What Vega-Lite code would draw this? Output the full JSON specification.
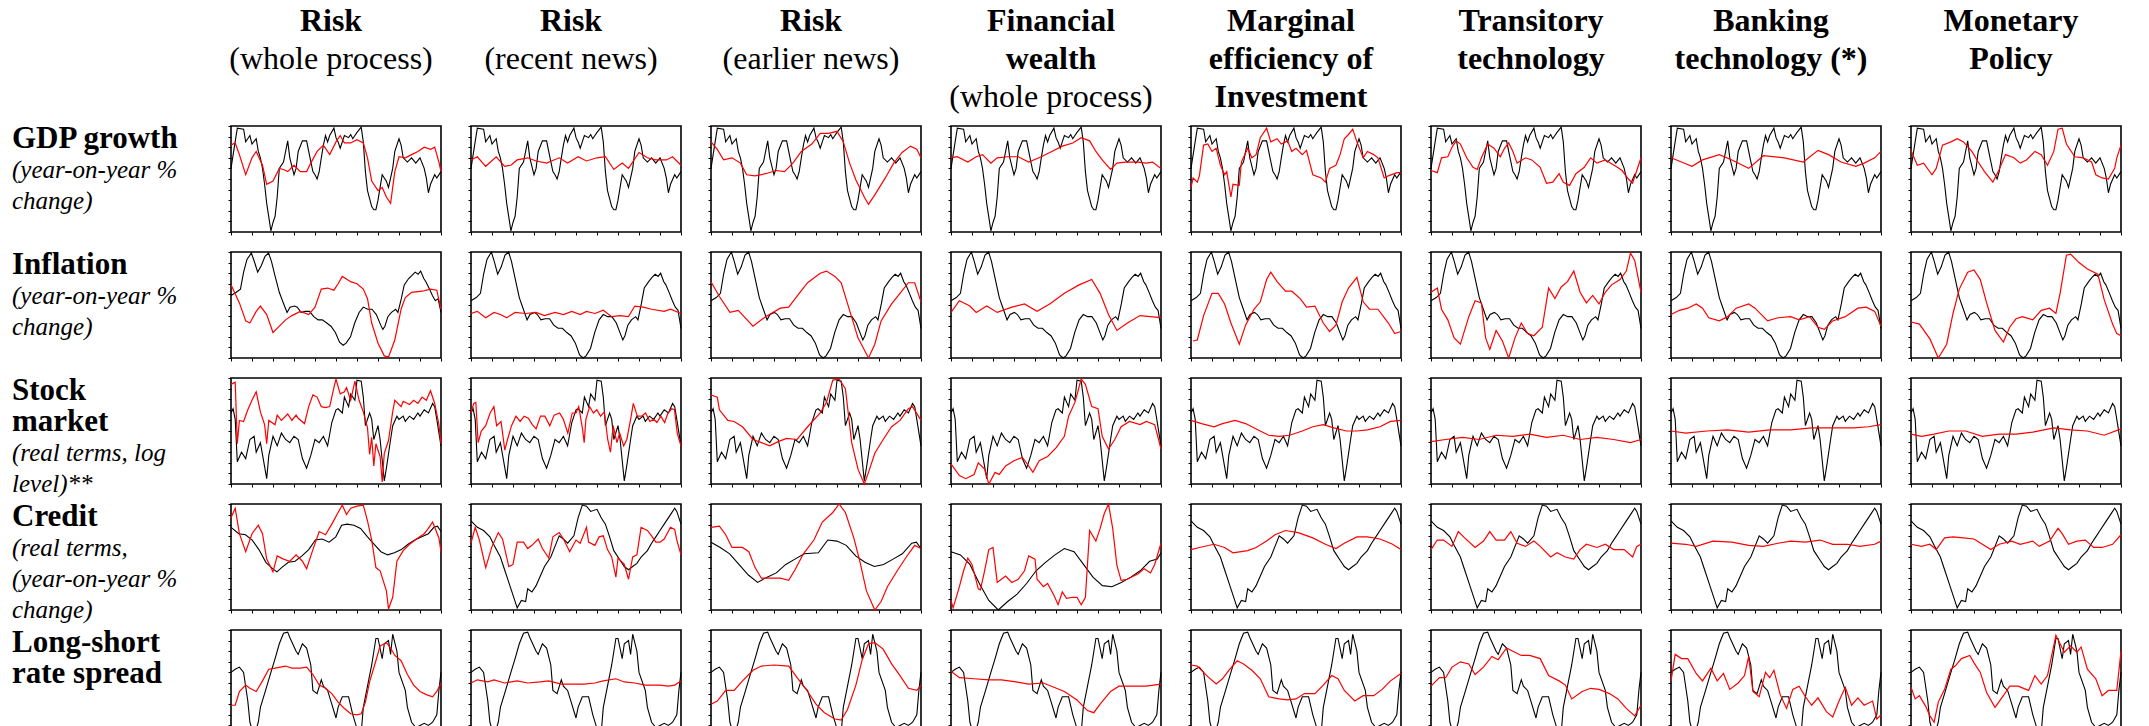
{
"padding": 0,
"background": "white",
"config": {"view": {"stroke": null}, "font": "Liberation Serif"},
"spacing": 10,
"datasets": {
"collab": [
{"c":1,"ln":0,"p":"n","txt":"Risk"},{"c":1,"ln":1,"p":"s","txt":"(whole process)"},
{"c":2,"ln":0,"p":"n","txt":"Risk"},{"c":2,"ln":1,"p":"s","txt":"(recent news)"},
{"c":3,"ln":0,"p":"n","txt":"Risk"},{"c":3,"ln":1,"p":"s","txt":"(earlier news)"},
{"c":4,"ln":0,"p":"n","txt":"Financial"},{"c":4,"ln":1,"p":"n","txt":"wealth"},{"c":4,"ln":2,"p":"s","txt":"(whole process)"},
{"c":5,"ln":0,"p":"n","txt":"Marginal"},{"c":5,"ln":1,"p":"n","txt":"efficiency of"},{"c":5,"ln":2,"p":"n","txt":"Investment"},
{"c":6,"ln":0,"p":"n","txt":"Transitory"},{"c":6,"ln":1,"p":"n","txt":"technology"},
{"c":7,"ln":0,"p":"n","txt":"Banking"},{"c":7,"ln":1,"p":"n","txt":"technology (*)"},
{"c":8,"ln":0,"p":"n","txt":"Monetary"},{"c":8,"ln":1,"p":"n","txt":"Policy"}
],
"rowlab": [
{"r":1,"ln":0,"p":"n","txt":"GDP growth"},{"r":1,"ln":1,"p":"d","txt":"(year-on-year %"},{"r":1,"ln":2,"p":"d","txt":"change)"},
{"r":2,"ln":0,"p":"n","txt":"Inflation"},{"r":2,"ln":1,"p":"d","txt":"(year-on-year %"},{"r":2,"ln":2,"p":"d","txt":"change)"},
{"r":3,"ln":0,"p":"n","txt":"Stock"},{"r":3,"ln":1,"p":"n","txt":"market"},{"r":3,"ln":2,"p":"d","txt":"(real terms, log"},{"r":3,"ln":3,"p":"d","txt":"level)**"},
{"r":4,"ln":0,"p":"n","txt":"Credit"},{"r":4,"ln":1,"p":"d","txt":"(real terms,"},{"r":4,"ln":2,"p":"d","txt":"(year-on-year %"},{"r":4,"ln":3,"p":"d","txt":"change)"},
{"r":5,"ln":0,"p":"n","txt":"Long-short"},{"r":5,"ln":1,"p":"n","txt":"rate spread"}
],
"grid": [
{"r":1,"c":[1,2,3,4,5,6,7,8],"t":0,"k":60},{"r":1,"c":[1,2,3,4,5,6,7,8],"t":3,"k":98},{"r":1,"c":[1,2,3,4,5,6,7,8],"t":6,"k":97},{"r":1,"c":[1,2,3,4,5,6,7,8],"t":7,"k":85},{"r":1,"c":[1,2,3,4,5,6,7,8],"t":9,"k":91},{"r":1,"c":[1,2,3,4,5,6,7,8],"t":10,"k":83},{"r":1,"c":[1,2,3,4,5,6,7,8],"t":12,"k":88},{"r":1,"c":[1,2,3,4,5,6,7,8],"t":13,"k":76},{"r":1,"c":[1,2,3,4,5,6,7,8],"t":14,"k":70},{"r":1,"c":[1,2,3,4,5,6,7,8],"t":15,"k":60},{"r":1,"c":[1,2,3,4,5,6,7,8],"t":16,"k":45},{"r":1,"c":[1,2,3,4,5,6,7,8],"t":17,"k":27},{"r":1,"c":[1,2,3,4,5,6,7,8],"t":19,"k":1},{"r":1,"c":[1,2,3,4,5,6,7,8],"t":20,"k":9},{"r":1,"c":[1,2,3,4,5,6,7,8],"t":21,"k":15},{"r":1,"c":[1,2,3,4,5,6,7,8],"t":22,"k":33},{"r":1,"c":[1,2,3,4,5,6,7,8],"t":23,"k":60},{"r":1,"c":[1,2,3,4,5,6,7,8],"t":25,"k":66},{"r":1,"c":[1,2,3,4,5,6,7,8],"t":27,"k":86},{"r":1,"c":[1,2,3,4,5,6,7,8],"t":28,"k":70},{"r":1,"c":[1,2,3,4,5,6,7,8],"t":30,"k":54},{"r":1,"c":[1,2,3,4,5,6,7,8],"t":31,"k":60},{"r":1,"c":[1,2,3,4,5,6,7,8],"t":32,"k":76},{"r":1,"c":[1,2,3,4,5,6,7,8],"t":34,"k":86},{"r":1,"c":[1,2,3,4,5,6,7,8],"t":36,"k":86},{"r":1,"c":[1,2,3,4,5,6,7,8],"t":37,"k":76},{"r":1,"c":[1,2,3,4,5,6,7,8],"t":39,"k":57},{"r":1,"c":[1,2,3,4,5,6,7,8],"t":40,"k":54},{"r":1,"c":[1,2,3,4,5,6,7,8],"t":41,"k":50},{"r":1,"c":[1,2,3,4,5,6,7,8],"t":42,"k":57},{"r":1,"c":[1,2,3,4,5,6,7,8],"t":43,"k":70},{"r":1,"c":[1,2,3,4,5,6,7,8],"t":44,"k":82},{"r":1,"c":[1,2,3,4,5,6,7,8],"t":45,"k":91},{"r":1,"c":[1,2,3,4,5,6,7,8],"t":46,"k":85},{"r":1,"c":[1,2,3,4,5,6,7,8],"t":47,"k":91},{"r":1,"c":[1,2,3,4,5,6,7,8],"t":49,"k":98},{"r":1,"c":[1,2,3,4,5,6,7,8],"t":50,"k":89},{"r":1,"c":[1,2,3,4,5,6,7,8],"t":51,"k":85},{"r":1,"c":[1,2,3,4,5,6,7,8],"t":52,"k":79},{"r":1,"c":[1,2,3,4,5,6,7,8],"t":53,"k":85},{"r":1,"c":[1,2,3,4,5,6,7,8],"t":54,"k":91},{"r":1,"c":[1,2,3,4,5,6,7,8],"t":56,"k":89},{"r":1,"c":[1,2,3,4,5,6,7,8],"t":57,"k":92},{"r":1,"c":[1,2,3,4,5,6,7,8],"t":58,"k":88},{"r":1,"c":[1,2,3,4,5,6,7,8],"t":59,"k":91},{"r":1,"c":[1,2,3,4,5,6,7,8],"t":60,"k":94},{"r":1,"c":[1,2,3,4,5,6,7,8],"t":62,"k":99},{"r":1,"c":[1,2,3,4,5,6,7,8],"t":63,"k":85},{"r":1,"c":[1,2,3,4,5,6,7,8],"t":64,"k":57},{"r":1,"c":[1,2,3,4,5,6,7,8],"t":65,"k":39},{"r":1,"c":[1,2,3,4,5,6,7,8],"t":67,"k":24},{"r":1,"c":[1,2,3,4,5,6,7,8],"t":68,"k":21},{"r":1,"c":[1,2,3,4,5,6,7,8],"t":69,"k":21},{"r":1,"c":[1,2,3,4,5,6,7,8],"t":70,"k":30},{"r":1,"c":[1,2,3,4,5,6,7,8],"t":72,"k":54},{"r":1,"c":[1,2,3,4,5,6,7,8],"t":74,"k":48},{"r":1,"c":[1,2,3,4,5,6,7,8],"t":75,"k":42},{"r":1,"c":[1,2,3,4,5,6,7,8],"t":77,"k":60},{"r":1,"c":[1,2,3,4,5,6,7,8],"t":78,"k":76},{"r":1,"c":[1,2,3,4,5,6,7,8],"t":80,"k":88},{"r":1,"c":[1,2,3,4,5,6,7,8],"t":81,"k":82},{"r":1,"c":[1,2,3,4,5,6,7,8],"t":82,"k":70},{"r":1,"c":[1,2,3,4,5,6,7,8],"t":84,"k":66},{"r":1,"c":[1,2,3,4,5,6,7,8],"t":86,"k":70},{"r":1,"c":[1,2,3,4,5,6,7,8],"t":88,"k":65},{"r":1,"c":[1,2,3,4,5,6,7,8],"t":90,"k":70},{"r":1,"c":[1,2,3,4,5,6,7,8],"t":92,"k":60},{"r":1,"c":[1,2,3,4,5,6,7,8],"t":93,"k":51},{"r":1,"c":[1,2,3,4,5,6,7,8],"t":94,"k":37},{"r":1,"c":[1,2,3,4,5,6,7,8],"t":95,"k":45},{"r":1,"c":[1,2,3,4,5,6,7,8],"t":97,"k":54},{"r":1,"c":[1,2,3,4,5,6,7,8],"t":98,"k":51},{"r":1,"c":[1,2,3,4,5,6,7,8],"t":100,"k":57},
{"r":2,"c":[2,3,4,5,6,7,8],"t":0,"k":54},{"r":2,"c":[2,3,4,5,6,7,8],"t":2.5,"k":57},{"r":2,"c":[2,3,4,5,6,7,8],"t":4.5,"k":61},{"r":2,"c":[2,3,4,5,6,7,8],"t":6,"k":79},{"r":2,"c":[2,3,4,5,6,7,8],"t":7.6,"k":93},{"r":2,"c":[2,3,4,5,6,7,8],"t":9.7,"k":100},{"r":2,"c":[2,3,4,5,6,7,8],"t":11.1,"k":91},{"r":2,"c":[2,3,4,5,6,7,8],"t":12.7,"k":79},{"r":2,"c":[2,3,4,5,6,7,8],"t":14.4,"k":86},{"r":2,"c":[2,3,4,5,6,7,8],"t":16.2,"k":97},{"r":2,"c":[2,3,4,5,6,7,8],"t":17.9,"k":100},{"r":2,"c":[2,3,4,5,6,7,8],"t":19.3,"k":91},{"r":2,"c":[2,3,4,5,6,7,8],"t":20.9,"k":76},{"r":2,"c":[2,3,4,5,6,7,8],"t":23,"k":57},{"r":2,"c":[2,3,4,5,6,7,8],"t":25.1,"k":45},{"r":2,"c":[2,3,4,5,6,7,8],"t":26.7,"k":36},{"r":2,"c":[2,3,4,5,6,7,8],"t":28.1,"k":41},{"r":2,"c":[2,3,4,5,6,7,8],"t":30.2,"k":43},{"r":2,"c":[2,3,4,5,6,7,8],"t":31.6,"k":41},{"r":2,"c":[2,3,4,5,6,7,8],"t":33.3,"k":36},{"r":2,"c":[2,3,4,5,6,7,8],"t":35.3,"k":37},{"r":2,"c":[2,3,4,5,6,7,8],"t":37.4,"k":37},{"r":2,"c":[2,3,4,5,6,7,8],"t":39.4,"k":31},{"r":2,"c":[2,3,4,5,6,7,8],"t":41.5,"k":28},{"r":2,"c":[2,3,4,5,6,7,8],"t":43.5,"k":28},{"r":2,"c":[2,3,4,5,6,7,8],"t":45.6,"k":24},{"r":2,"c":[2,3,4,5,6,7,8],"t":47.6,"k":21},{"r":2,"c":[2,3,4,5,6,7,8],"t":49.7,"k":14},{"r":2,"c":[2,3,4,5,6,7,8],"t":51.7,"k":3},{"r":2,"c":[2,3,4,5,6,7,8],"t":53.4,"k":0},{"r":2,"c":[2,3,4,5,6,7,8],"t":54.8,"k":2},{"r":2,"c":[2,3,4,5,6,7,8],"t":56.9,"k":9},{"r":2,"c":[2,3,4,5,6,7,8],"t":58.9,"k":24},{"r":2,"c":[2,3,4,5,6,7,8],"t":61,"k":36},{"r":2,"c":[2,3,4,5,6,7,8],"t":63,"k":41},{"r":2,"c":[2,3,4,5,6,7,8],"t":65.1,"k":39},{"r":2,"c":[2,3,4,5,6,7,8],"t":67.1,"k":39},{"r":2,"c":[2,3,4,5,6,7,8],"t":69.2,"k":33},{"r":2,"c":[2,3,4,5,6,7,8],"t":71.3,"k":22},{"r":2,"c":[2,3,4,5,6,7,8],"t":72.3,"k":17},{"r":2,"c":[2,3,4,5,6,7,8],"t":73.3,"k":21},{"r":2,"c":[2,3,4,5,6,7,8],"t":74.7,"k":31},{"r":2,"c":[2,3,4,5,6,7,8],"t":76.4,"k":36},{"r":2,"c":[2,3,4,5,6,7,8],"t":78.4,"k":39},{"r":2,"c":[2,3,4,5,6,7,8],"t":79.5,"k":36},{"r":2,"c":[2,3,4,5,6,7,8],"t":81.1,"k":51},{"r":2,"c":[2,3,4,5,6,7,8],"t":82.5,"k":66},{"r":2,"c":[2,3,4,5,6,7,8],"t":84.6,"k":72},{"r":2,"c":[2,3,4,5,6,7,8],"t":86.2,"k":76},{"r":2,"c":[2,3,4,5,6,7,8],"t":87.7,"k":79},{"r":2,"c":[2,3,4,5,6,7,8],"t":89.1,"k":77},{"r":2,"c":[2,3,4,5,6,7,8],"t":90.3,"k":80},{"r":2,"c":[2,3,4,5,6,7,8],"t":91.8,"k":72},{"r":2,"c":[2,3,4,5,6,7,8],"t":92.8,"k":69},{"r":2,"c":[2,3,4,5,6,7,8],"t":94.5,"k":61},{"r":2,"c":[2,3,4,5,6,7,8],"t":95.9,"k":54},{"r":2,"c":[2,3,4,5,6,7,8],"t":97.3,"k":48},{"r":2,"c":[2,3,4,5,6,7,8],"t":98.6,"k":45},{"r":2,"c":[2,3,4,5,6,7,8],"t":100,"k":28},
{"r":2,"c":[1],"t":0,"k":59},{"r":2,"c":[1],"t":2.5,"k":62},{"r":2,"c":[1],"t":4.5,"k":65},{"r":2,"c":[1],"t":6,"k":81},{"r":2,"c":[1],"t":7.6,"k":93},{"r":2,"c":[1],"t":9.7,"k":99},{"r":2,"c":[1],"t":11.1,"k":91},{"r":2,"c":[1],"t":12.7,"k":81},{"r":2,"c":[1],"t":14.4,"k":87},{"r":2,"c":[1],"t":16.2,"k":96},{"r":2,"c":[1],"t":17.9,"k":99},{"r":2,"c":[1],"t":19.3,"k":91},{"r":2,"c":[1],"t":20.9,"k":78},{"r":2,"c":[1],"t":23,"k":62},{"r":2,"c":[1],"t":25.1,"k":51},{"r":2,"c":[1],"t":26.7,"k":43},{"r":2,"c":[1],"t":28.1,"k":48},{"r":2,"c":[1],"t":30.2,"k":49},{"r":2,"c":[1],"t":31.6,"k":48},{"r":2,"c":[1],"t":33.3,"k":43},{"r":2,"c":[1],"t":35.3,"k":44},{"r":2,"c":[1],"t":37.4,"k":44},{"r":2,"c":[1],"t":39.4,"k":39},{"r":2,"c":[1],"t":41.5,"k":36},{"r":2,"c":[1],"t":43.5,"k":36},{"r":2,"c":[1],"t":45.6,"k":33},{"r":2,"c":[1],"t":47.6,"k":30},{"r":2,"c":[1],"t":49.7,"k":24},{"r":2,"c":[1],"t":51.7,"k":15},{"r":2,"c":[1],"t":53.4,"k":12},{"r":2,"c":[1],"t":54.8,"k":14},{"r":2,"c":[1],"t":56.9,"k":20},{"r":2,"c":[1],"t":58.9,"k":33},{"r":2,"c":[1],"t":61,"k":43},{"r":2,"c":[1],"t":63,"k":48},{"r":2,"c":[1],"t":65.1,"k":46},{"r":2,"c":[1],"t":67.1,"k":46},{"r":2,"c":[1],"t":69.2,"k":41},{"r":2,"c":[1],"t":71.3,"k":31},{"r":2,"c":[1],"t":72.3,"k":27},{"r":2,"c":[1],"t":73.3,"k":30},{"r":2,"c":[1],"t":74.7,"k":39},{"r":2,"c":[1],"t":76.4,"k":43},{"r":2,"c":[1],"t":78.4,"k":46},{"r":2,"c":[1],"t":79.5,"k":43},{"r":2,"c":[1],"t":81.1,"k":56},{"r":2,"c":[1],"t":82.5,"k":69},{"r":2,"c":[1],"t":84.6,"k":75},{"r":2,"c":[1],"t":86.2,"k":78},{"r":2,"c":[1],"t":87.7,"k":81},{"r":2,"c":[1],"t":89.1,"k":79},{"r":2,"c":[1],"t":90.3,"k":82},{"r":2,"c":[1],"t":91.8,"k":75},{"r":2,"c":[1],"t":92.8,"k":72},{"r":2,"c":[1],"t":94.5,"k":65},{"r":2,"c":[1],"t":95.9,"k":59},{"r":2,"c":[1],"t":97.3,"k":54},{"r":2,"c":[1],"t":98.6,"k":56},{"r":2,"c":[1],"t":100,"k":43},
{"r":3,"c":[1,2,3,4,5,6,7,8],"t":0,"k":67},{"r":3,"c":[1,2,3,4,5,6,7,8],"t":1,"k":71},{"r":3,"c":[1,2,3,4,5,6,7,8],"t":2,"k":61},{"r":3,"c":[1,2,3,4,5,6,7,8],"t":3,"k":21},{"r":3,"c":[1,2,3,4,5,6,7,8],"t":5,"k":30},{"r":3,"c":[1,2,3,4,5,6,7,8],"t":7,"k":24},{"r":3,"c":[1,2,3,4,5,6,7,8],"t":9,"k":42},{"r":3,"c":[1,2,3,4,5,6,7,8],"t":11,"k":45},{"r":3,"c":[1,2,3,4,5,6,7,8],"t":12,"k":30},{"r":3,"c":[1,2,3,4,5,6,7,8],"t":14,"k":39},{"r":3,"c":[1,2,3,4,5,6,7,8],"t":17,"k":5},{"r":3,"c":[1,2,3,4,5,6,7,8],"t":18,"k":27},{"r":3,"c":[1,2,3,4,5,6,7,8],"t":20,"k":45},{"r":3,"c":[1,2,3,4,5,6,7,8],"t":22,"k":36},{"r":3,"c":[1,2,3,4,5,6,7,8],"t":24,"k":48},{"r":3,"c":[1,2,3,4,5,6,7,8],"t":26,"k":42},{"r":3,"c":[1,2,3,4,5,6,7,8],"t":28,"k":39},{"r":3,"c":[1,2,3,4,5,6,7,8],"t":30,"k":45},{"r":3,"c":[1,2,3,4,5,6,7,8],"t":32,"k":42},{"r":3,"c":[1,2,3,4,5,6,7,8],"t":34,"k":24},{"r":3,"c":[1,2,3,4,5,6,7,8],"t":36,"k":15},{"r":3,"c":[1,2,3,4,5,6,7,8],"t":38,"k":27},{"r":3,"c":[1,2,3,4,5,6,7,8],"t":40,"k":42},{"r":3,"c":[1,2,3,4,5,6,7,8],"t":42,"k":39},{"r":3,"c":[1,2,3,4,5,6,7,8],"t":44,"k":45},{"r":3,"c":[1,2,3,4,5,6,7,8],"t":46,"k":36},{"r":3,"c":[1,2,3,4,5,6,7,8],"t":48,"k":58},{"r":3,"c":[1,2,3,4,5,6,7,8],"t":50,"k":70},{"r":3,"c":[1,2,3,4,5,6,7,8],"t":51,"k":71},{"r":3,"c":[1,2,3,4,5,6,7,8],"t":53,"k":67},{"r":3,"c":[1,2,3,4,5,6,7,8],"t":54,"k":82},{"r":3,"c":[1,2,3,4,5,6,7,8],"t":56,"k":73},{"r":3,"c":[1,2,3,4,5,6,7,8],"t":57,"k":85},{"r":3,"c":[1,2,3,4,5,6,7,8],"t":59,"k":79},{"r":3,"c":[1,2,3,4,5,6,7,8],"t":60,"k":98},{"r":3,"c":[1,2,3,4,5,6,7,8],"t":62,"k":97},{"r":3,"c":[1,2,3,4,5,6,7,8],"t":63,"k":82},{"r":3,"c":[1,2,3,4,5,6,7,8],"t":64,"k":55},{"r":3,"c":[1,2,3,4,5,6,7,8],"t":66,"k":67},{"r":3,"c":[1,2,3,4,5,6,7,8],"t":67,"k":61},{"r":3,"c":[1,2,3,4,5,6,7,8],"t":68,"k":42},{"r":3,"c":[1,2,3,4,5,6,7,8],"t":70,"k":55},{"r":3,"c":[1,2,3,4,5,6,7,8],"t":71,"k":42},{"r":3,"c":[1,2,3,4,5,6,7,8],"t":73,"k":3},{"r":3,"c":[1,2,3,4,5,6,7,8],"t":74,"k":15},{"r":3,"c":[1,2,3,4,5,6,7,8],"t":76,"k":42},{"r":3,"c":[1,2,3,4,5,6,7,8],"t":77,"k":55},{"r":3,"c":[1,2,3,4,5,6,7,8],"t":79,"k":64},{"r":3,"c":[1,2,3,4,5,6,7,8],"t":80,"k":61},{"r":3,"c":[1,2,3,4,5,6,7,8],"t":82,"k":64},{"r":3,"c":[1,2,3,4,5,6,7,8],"t":83,"k":59},{"r":3,"c":[1,2,3,4,5,6,7,8],"t":85,"k":64},{"r":3,"c":[1,2,3,4,5,6,7,8],"t":87,"k":61},{"r":3,"c":[1,2,3,4,5,6,7,8],"t":89,"k":67},{"r":3,"c":[1,2,3,4,5,6,7,8],"t":90,"k":64},{"r":3,"c":[1,2,3,4,5,6,7,8],"t":92,"k":70},{"r":3,"c":[1,2,3,4,5,6,7,8],"t":94,"k":67},{"r":3,"c":[1,2,3,4,5,6,7,8],"t":96,"k":76},{"r":3,"c":[1,2,3,4,5,6,7,8],"t":97,"k":73},{"r":3,"c":[1,2,3,4,5,6,7,8],"t":98,"k":61},{"r":3,"c":[1,2,3,4,5,6,7,8],"t":100,"k":36},
{"r":4,"c":[2,5,6,7,8],"t":0,"k":84},{"r":4,"c":[2,5,6,7,8],"t":3,"k":78},{"r":4,"c":[2,5,6,7,8],"t":6,"k":75},{"r":4,"c":[2,5,6,7,8],"t":9,"k":69},{"r":4,"c":[2,5,6,7,8],"t":11,"k":61},{"r":4,"c":[2,5,6,7,8],"t":14,"k":50},{"r":4,"c":[2,5,6,7,8],"t":16,"k":38},{"r":4,"c":[2,5,6,7,8],"t":18,"k":26},{"r":4,"c":[2,5,6,7,8],"t":20,"k":14},{"r":4,"c":[2,5,6,7,8],"t":22,"k":2},{"r":4,"c":[2,5,6,7,8],"t":24,"k":9},{"r":4,"c":[2,5,6,7,8],"t":26,"k":8},{"r":4,"c":[2,5,6,7,8],"t":27,"k":20},{"r":4,"c":[2,5,6,7,8],"t":29,"k":17},{"r":4,"c":[2,5,6,7,8],"t":31,"k":23},{"r":4,"c":[2,5,6,7,8],"t":33,"k":32},{"r":4,"c":[2,5,6,7,8],"t":35,"k":41},{"r":4,"c":[2,5,6,7,8],"t":38,"k":50},{"r":4,"c":[2,5,6,7,8],"t":40,"k":60},{"r":4,"c":[2,5,6,7,8],"t":42,"k":70},{"r":4,"c":[2,5,6,7,8],"t":44,"k":67},{"r":4,"c":[2,5,6,7,8],"t":46,"k":63},{"r":4,"c":[2,5,6,7,8],"t":49,"k":70},{"r":4,"c":[2,5,6,7,8],"t":51,"k":87},{"r":4,"c":[2,5,6,7,8],"t":53,"k":99},{"r":4,"c":[2,5,6,7,8],"t":55,"k":98},{"r":4,"c":[2,5,6,7,8],"t":57,"k":93},{"r":4,"c":[2,5,6,7,8],"t":60,"k":95},{"r":4,"c":[2,5,6,7,8],"t":62,"k":87},{"r":4,"c":[2,5,6,7,8],"t":64,"k":81},{"r":4,"c":[2,5,6,7,8],"t":66,"k":69},{"r":4,"c":[2,5,6,7,8],"t":68,"k":56},{"r":4,"c":[2,5,6,7,8],"t":71,"k":47},{"r":4,"c":[2,5,6,7,8],"t":73,"k":41},{"r":4,"c":[2,5,6,7,8],"t":75,"k":38},{"r":4,"c":[2,5,6,7,8],"t":77,"k":41},{"r":4,"c":[2,5,6,7,8],"t":79,"k":44},{"r":4,"c":[2,5,6,7,8],"t":81,"k":50},{"r":4,"c":[2,5,6,7,8],"t":84,"k":56},{"r":4,"c":[2,5,6,7,8],"t":86,"k":63},{"r":4,"c":[2,5,6,7,8],"t":88,"k":69},{"r":4,"c":[2,5,6,7,8],"t":90,"k":75},{"r":4,"c":[2,5,6,7,8],"t":92,"k":81},{"r":4,"c":[2,5,6,7,8],"t":95,"k":90},{"r":4,"c":[2,5,6,7,8],"t":97,"k":96},{"r":4,"c":[2,5,6,7,8],"t":98,"k":93},{"r":4,"c":[2,5,6,7,8],"t":100,"k":81},
{"r":4,"c":[1],"t":0,"k":78},{"r":4,"c":[1],"t":3.7,"k":72},{"r":4,"c":[1],"t":6.9,"k":71},{"r":4,"c":[1],"t":10.1,"k":66},{"r":4,"c":[1],"t":13.3,"k":57},{"r":4,"c":[1],"t":16.6,"k":45},{"r":4,"c":[1],"t":19.8,"k":39},{"r":4,"c":[1],"t":21.9,"k":36},{"r":4,"c":[1],"t":24.1,"k":40},{"r":4,"c":[1],"t":27.3,"k":45},{"r":4,"c":[1],"t":30.5,"k":46},{"r":4,"c":[1],"t":33.8,"k":51},{"r":4,"c":[1],"t":37,"k":57},{"r":4,"c":[1],"t":40.2,"k":66},{"r":4,"c":[1],"t":43.4,"k":67},{"r":4,"c":[1],"t":46.7,"k":64},{"r":4,"c":[1],"t":49.9,"k":69},{"r":4,"c":[1],"t":52.7,"k":80},{"r":4,"c":[1],"t":55.3,"k":81},{"r":4,"c":[1],"t":58.5,"k":80},{"r":4,"c":[1],"t":61.7,"k":77},{"r":4,"c":[1],"t":65,"k":69},{"r":4,"c":[1],"t":68.2,"k":62},{"r":4,"c":[1],"t":71.4,"k":55},{"r":4,"c":[1],"t":74.6,"k":52},{"r":4,"c":[1],"t":77.8,"k":54},{"r":4,"c":[1],"t":81.1,"k":57},{"r":4,"c":[1],"t":84.3,"k":62},{"r":4,"c":[1],"t":87.5,"k":66},{"r":4,"c":[1],"t":90.8,"k":69},{"r":4,"c":[1],"t":94,"k":72},{"r":4,"c":[1],"t":96.6,"k":78},{"r":4,"c":[1],"t":98.3,"k":79},{"r":4,"c":[1],"t":100,"k":74},
{"r":4,"c":[3],"t":0,"k":64},{"r":4,"c":[3],"t":4.4,"k":59},{"r":4,"c":[3],"t":8.9,"k":53},{"r":4,"c":[3],"t":13.3,"k":43},{"r":4,"c":[3],"t":17.8,"k":33},{"r":4,"c":[3],"t":22.2,"k":26},{"r":4,"c":[3],"t":26.7,"k":31},{"r":4,"c":[3],"t":31.1,"k":35},{"r":4,"c":[3],"t":35.6,"k":43},{"r":4,"c":[3],"t":40,"k":48},{"r":4,"c":[3],"t":44.4,"k":53},{"r":4,"c":[3],"t":51.1,"k":54},{"r":4,"c":[3],"t":55.6,"k":66},{"r":4,"c":[3],"t":60,"k":65},{"r":4,"c":[3],"t":64.4,"k":61},{"r":4,"c":[3],"t":68.9,"k":51},{"r":4,"c":[3],"t":73.3,"k":45},{"r":4,"c":[3],"t":77.8,"k":41},{"r":4,"c":[3],"t":82.2,"k":43},{"r":4,"c":[3],"t":86.7,"k":48},{"r":4,"c":[3],"t":91.1,"k":53},{"r":4,"c":[3],"t":95.6,"k":63},{"r":4,"c":[3],"t":97.8,"k":64},{"r":4,"c":[3],"t":100,"k":58},
{"r":4,"c":[4],"t":0,"k":55},{"r":4,"c":[4],"t":4.5,"k":52},{"r":4,"c":[4],"t":9,"k":43},{"r":4,"c":[4],"t":13.5,"k":25},{"r":4,"c":[4],"t":18,"k":9},{"r":4,"c":[4],"t":22.5,"k":0},{"r":4,"c":[4],"t":27,"k":8},{"r":4,"c":[4],"t":31.5,"k":15},{"r":4,"c":[4],"t":36,"k":25},{"r":4,"c":[4],"t":40.5,"k":37},{"r":4,"c":[4],"t":45,"k":45},{"r":4,"c":[4],"t":49.5,"k":52},{"r":4,"c":[4],"t":54,"k":58},{"r":4,"c":[4],"t":58.6,"k":55},{"r":4,"c":[4],"t":63.1,"k":43},{"r":4,"c":[4],"t":67.6,"k":31},{"r":4,"c":[4],"t":72.1,"k":23},{"r":4,"c":[4],"t":76.6,"k":22},{"r":4,"c":[4],"t":81.1,"k":26},{"r":4,"c":[4],"t":85.6,"k":31},{"r":4,"c":[4],"t":90.1,"k":37},{"r":4,"c":[4],"t":94.6,"k":46},{"r":4,"c":[4],"t":98.2,"k":48},{"r":4,"c":[4],"t":100,"k":54},
{"r":5,"c":[1,2,3,4,5,6,7,8],"t":0,"k":60},{"r":5,"c":[1,2,3,4,5,6,7,8],"t":2,"k":63},{"r":5,"c":[1,2,3,4,5,6,7,8],"t":4,"k":65},{"r":5,"c":[1,2,3,4,5,6,7,8],"t":6,"k":60},{"r":5,"c":[1,2,3,4,5,6,7,8],"t":8,"k":33},{"r":5,"c":[1,2,3,4,5,6,7,8],"t":9,"k":13},{"r":5,"c":[1,2,3,4,5,6,7,8],"t":11,"k":0},{"r":5,"c":[1,2,3,4,5,6,7,8],"t":13,"k":13},{"r":5,"c":[1,2,3,4,5,6,7,8],"t":14,"k":27},{"r":5,"c":[1,2,3,4,5,6,7,8],"t":16,"k":40},{"r":5,"c":[1,2,3,4,5,6,7,8],"t":19,"k":60},{"r":5,"c":[1,2,3,4,5,6,7,8],"t":21,"k":73},{"r":5,"c":[1,2,3,4,5,6,7,8],"t":23,"k":87},{"r":5,"c":[1,2,3,4,5,6,7,8],"t":25,"k":97},{"r":5,"c":[1,2,3,4,5,6,7,8],"t":27,"k":98},{"r":5,"c":[1,2,3,4,5,6,7,8],"t":28,"k":93},{"r":5,"c":[1,2,3,4,5,6,7,8],"t":31,"k":80},{"r":5,"c":[1,2,3,4,5,6,7,8],"t":32,"k":77},{"r":5,"c":[1,2,3,4,5,6,7,8],"t":34,"k":87},{"r":5,"c":[1,2,3,4,5,6,7,8],"t":36,"k":83},{"r":5,"c":[1,2,3,4,5,6,7,8],"t":38,"k":67},{"r":5,"c":[1,2,3,4,5,6,7,8],"t":39,"k":43},{"r":5,"c":[1,2,3,4,5,6,7,8],"t":41,"k":40},{"r":5,"c":[1,2,3,4,5,6,7,8],"t":43,"k":53},{"r":5,"c":[1,2,3,4,5,6,7,8],"t":44,"k":47},{"r":5,"c":[1,2,3,4,5,6,7,8],"t":46,"k":43},{"r":5,"c":[1,2,3,4,5,6,7,8],"t":48,"k":30},{"r":5,"c":[1,2,3,4,5,6,7,8],"t":50,"k":17},{"r":5,"c":[1,2,3,4,5,6,7,8],"t":51,"k":27},{"r":5,"c":[1,2,3,4,5,6,7,8],"t":53,"k":37},{"r":5,"c":[1,2,3,4,5,6,7,8],"t":55,"k":37},{"r":5,"c":[1,2,3,4,5,6,7,8],"t":56,"k":37},{"r":5,"c":[1,2,3,4,5,6,7,8],"t":58,"k":20},{"r":5,"c":[1,2,3,4,5,6,7,8],"t":60,"k":7},{"r":5,"c":[1,2,3,4,5,6,7,8],"t":62,"k":3},{"r":5,"c":[1,2,3,4,5,6,7,8],"t":63,"k":27},{"r":5,"c":[1,2,3,4,5,6,7,8],"t":65,"k":47},{"r":5,"c":[1,2,3,4,5,6,7,8],"t":67,"k":67},{"r":5,"c":[1,2,3,4,5,6,7,8],"t":69,"k":92},{"r":5,"c":[1,2,3,4,5,6,7,8],"t":70,"k":92},{"r":5,"c":[1,2,3,4,5,6,7,8],"t":72,"k":73},{"r":5,"c":[1,2,3,4,5,6,7,8],"t":73,"k":87},{"r":5,"c":[1,2,3,4,5,6,7,8],"t":75,"k":90},{"r":5,"c":[1,2,3,4,5,6,7,8],"t":76,"k":77},{"r":5,"c":[1,2,3,4,5,6,7,8],"t":77,"k":96},{"r":5,"c":[1,2,3,4,5,6,7,8],"t":79,"k":80},{"r":5,"c":[1,2,3,4,5,6,7,8],"t":80,"k":60},{"r":5,"c":[1,2,3,4,5,6,7,8],"t":83,"k":43},{"r":5,"c":[1,2,3,4,5,6,7,8],"t":84,"k":27},{"r":5,"c":[1,2,3,4,5,6,7,8],"t":86,"k":13},{"r":5,"c":[1,2,3,4,5,6,7,8],"t":88,"k":8},{"r":5,"c":[1,2,3,4,5,6,7,8],"t":90,"k":10},{"r":5,"c":[1,2,3,4,5,6,7,8],"t":92,"k":12},{"r":5,"c":[1,2,3,4,5,6,7,8],"t":94,"k":10},{"r":5,"c":[1,2,3,4,5,6,7,8],"t":96,"k":13},{"r":5,"c":[1,2,3,4,5,6,7,8],"t":98,"k":20},{"r":5,"c":[1,2,3,4,5,6,7,8],"t":99,"k":43},{"r":5,"c":[1,2,3,4,5,6,7,8],"t":100,"k":60},
{"r":1,"c":[1],"t":0,"v":82},{"r":1,"c":[1],"t":2,"v":84},{"r":1,"c":[1],"t":4,"v":73},{"r":1,"c":[1],"t":7,"v":54},{"r":1,"c":[1],"t":10,"v":70},{"r":1,"c":[1],"t":12,"v":76},{"r":1,"c":[1],"t":15,"v":63},{"r":1,"c":[1],"t":17,"v":45},{"r":1,"c":[1],"t":20,"v":48},{"r":1,"c":[1],"t":23,"v":60},{"r":1,"c":[1],"t":25,"v":59},{"r":1,"c":[1],"t":27,"v":57},{"r":1,"c":[1],"t":30,"v":63},{"r":1,"c":[1],"t":33,"v":57},{"r":1,"c":[1],"t":36,"v":57},{"r":1,"c":[1],"t":38,"v":65},{"r":1,"c":[1],"t":41,"v":76},{"r":1,"c":[1],"t":44,"v":82},{"r":1,"c":[1],"t":47,"v":73},{"r":1,"c":[1],"t":50,"v":85},{"r":1,"c":[1],"t":52,"v":91},{"r":1,"c":[1],"t":54,"v":84},{"r":1,"c":[1],"t":57,"v":84},{"r":1,"c":[1],"t":60,"v":87},{"r":1,"c":[1],"t":63,"v":84},{"r":1,"c":[1],"t":65,"v":70},{"r":1,"c":[1],"t":67,"v":48},{"r":1,"c":[1],"t":70,"v":39},{"r":1,"c":[1],"t":72,"v":42},{"r":1,"c":[1],"t":74,"v":33},{"r":1,"c":[1],"t":76,"v":27},{"r":1,"c":[1],"t":78,"v":57},{"r":1,"c":[1],"t":80,"v":71},{"r":1,"c":[1],"t":83,"v":70},{"r":1,"c":[1],"t":86,"v":73},{"r":1,"c":[1],"t":89,"v":76},{"r":1,"c":[1],"t":92,"v":80},{"r":1,"c":[1],"t":95,"v":78},{"r":1,"c":[1],"t":97,"v":80},{"r":1,"c":[1],"t":99,"v":66},{"r":1,"c":[1],"t":100,"v":57},
{"r":1,"c":[2],"t":0,"v":68},{"r":1,"c":[2],"t":3,"v":71},{"r":1,"c":[2],"t":7,"v":62},{"r":1,"c":[2],"t":12,"v":71},{"r":1,"c":[2],"t":16,"v":62},{"r":1,"c":[2],"t":19,"v":63},{"r":1,"c":[2],"t":22,"v":68},{"r":1,"c":[2],"t":27,"v":70},{"r":1,"c":[2],"t":31,"v":67},{"r":1,"c":[2],"t":36,"v":65},{"r":1,"c":[2],"t":42,"v":70},{"r":1,"c":[2],"t":46,"v":65},{"r":1,"c":[2],"t":51,"v":71},{"r":1,"c":[2],"t":55,"v":67},{"r":1,"c":[2],"t":60,"v":70},{"r":1,"c":[2],"t":64,"v":71},{"r":1,"c":[2],"t":68,"v":59},{"r":1,"c":[2],"t":72,"v":65},{"r":1,"c":[2],"t":75,"v":60},{"r":1,"c":[2],"t":80,"v":75},{"r":1,"c":[2],"t":84,"v":70},{"r":1,"c":[2],"t":88,"v":68},{"r":1,"c":[2],"t":93,"v":68},{"r":1,"c":[2],"t":96,"v":71},{"r":1,"c":[2],"t":100,"v":63},
{"r":1,"c":[3],"t":0,"v":85},{"r":1,"c":[3],"t":3,"v":78},{"r":1,"c":[3],"t":6,"v":68},{"r":1,"c":[3],"t":10,"v":70},{"r":1,"c":[3],"t":14,"v":65},{"r":1,"c":[3],"t":17,"v":54},{"r":1,"c":[3],"t":21,"v":53},{"r":1,"c":[3],"t":26,"v":55},{"r":1,"c":[3],"t":31,"v":58},{"r":1,"c":[3],"t":35,"v":57},{"r":1,"c":[3],"t":39,"v":65},{"r":1,"c":[3],"t":43,"v":76},{"r":1,"c":[3],"t":48,"v":83},{"r":1,"c":[3],"t":52,"v":93},{"r":1,"c":[3],"t":56,"v":93},{"r":1,"c":[3],"t":60,"v":95},{"r":1,"c":[3],"t":63,"v":85},{"r":1,"c":[3],"t":66,"v":65},{"r":1,"c":[3],"t":69,"v":49},{"r":1,"c":[3],"t":73,"v":33},{"r":1,"c":[3],"t":75,"v":26},{"r":1,"c":[3],"t":78,"v":35},{"r":1,"c":[3],"t":83,"v":51},{"r":1,"c":[3],"t":87,"v":65},{"r":1,"c":[3],"t":91,"v":75},{"r":1,"c":[3],"t":95,"v":81},{"r":1,"c":[3],"t":98,"v":78},{"r":1,"c":[3],"t":100,"v":70},
{"r":1,"c":[4],"t":0,"v":70},{"r":1,"c":[4],"t":3,"v":71},{"r":1,"c":[4],"t":8,"v":66},{"r":1,"c":[4],"t":12,"v":71},{"r":1,"c":[4],"t":15,"v":73},{"r":1,"c":[4],"t":19,"v":65},{"r":1,"c":[4],"t":22,"v":70},{"r":1,"c":[4],"t":27,"v":71},{"r":1,"c":[4],"t":32,"v":71},{"r":1,"c":[4],"t":37,"v":66},{"r":1,"c":[4],"t":43,"v":71},{"r":1,"c":[4],"t":48,"v":76},{"r":1,"c":[4],"t":53,"v":81},{"r":1,"c":[4],"t":58,"v":84},{"r":1,"c":[4],"t":62,"v":89},{"r":1,"c":[4],"t":66,"v":86},{"r":1,"c":[4],"t":69,"v":76},{"r":1,"c":[4],"t":72,"v":68},{"r":1,"c":[4],"t":76,"v":59},{"r":1,"c":[4],"t":79,"v":65},{"r":1,"c":[4],"t":83,"v":66},{"r":1,"c":[4],"t":89,"v":66},{"r":1,"c":[4],"t":93,"v":65},{"r":1,"c":[4],"t":96,"v":66},{"r":1,"c":[4],"t":100,"v":60},
{"r":1,"c":[5],"t":0,"v":42},{"r":1,"c":[5],"t":1,"v":51},{"r":1,"c":[5],"t":3,"v":47},{"r":1,"c":[5],"t":4,"v":53},{"r":1,"c":[5],"t":6,"v":82},{"r":1,"c":[5],"t":8,"v":83},{"r":1,"c":[5],"t":10,"v":76},{"r":1,"c":[5],"t":12,"v":79},{"r":1,"c":[5],"t":14,"v":63},{"r":1,"c":[5],"t":16,"v":54},{"r":1,"c":[5],"t":17,"v":57},{"r":1,"c":[5],"t":19,"v":33},{"r":1,"c":[5],"t":20,"v":45},{"r":1,"c":[5],"t":23,"v":44},{"r":1,"c":[5],"t":24,"v":66},{"r":1,"c":[5],"t":27,"v":79},{"r":1,"c":[5],"t":29,"v":70},{"r":1,"c":[5],"t":31,"v":73},{"r":1,"c":[5],"t":33,"v":89},{"r":1,"c":[5],"t":36,"v":98},{"r":1,"c":[5],"t":38,"v":85},{"r":1,"c":[5],"t":41,"v":88},{"r":1,"c":[5],"t":43,"v":83},{"r":1,"c":[5],"t":46,"v":86},{"r":1,"c":[5],"t":48,"v":76},{"r":1,"c":[5],"t":50,"v":79},{"r":1,"c":[5],"t":53,"v":73},{"r":1,"c":[5],"t":55,"v":77},{"r":1,"c":[5],"t":58,"v":54},{"r":1,"c":[5],"t":62,"v":51},{"r":1,"c":[5],"t":64,"v":47},{"r":1,"c":[5],"t":66,"v":60},{"r":1,"c":[5],"t":69,"v":63},{"r":1,"c":[5],"t":71,"v":73},{"r":1,"c":[5],"t":73,"v":88},{"r":1,"c":[5],"t":75,"v":92},{"r":1,"c":[5],"t":77,"v":97},{"r":1,"c":[5],"t":79,"v":85},{"r":1,"c":[5],"t":82,"v":70},{"r":1,"c":[5],"t":84,"v":76},{"r":1,"c":[5],"t":87,"v":73},{"r":1,"c":[5],"t":89,"v":70},{"r":1,"c":[5],"t":92,"v":51},{"r":1,"c":[5],"t":94,"v":53},{"r":1,"c":[5],"t":98,"v":56},{"r":1,"c":[5],"t":100,"v":56},
{"r":1,"c":[6],"t":0,"v":58},{"r":1,"c":[6],"t":3,"v":56},{"r":1,"c":[6],"t":5,"v":70},{"r":1,"c":[6],"t":8,"v":71},{"r":1,"c":[6],"t":10,"v":80},{"r":1,"c":[6],"t":12,"v":86},{"r":1,"c":[6],"t":14,"v":83},{"r":1,"c":[6],"t":17,"v":70},{"r":1,"c":[6],"t":20,"v":61},{"r":1,"c":[6],"t":22,"v":59},{"r":1,"c":[6],"t":24,"v":70},{"r":1,"c":[6],"t":27,"v":83},{"r":1,"c":[6],"t":30,"v":79},{"r":1,"c":[6],"t":33,"v":71},{"r":1,"c":[6],"t":35,"v":79},{"r":1,"c":[6],"t":37,"v":84},{"r":1,"c":[6],"t":39,"v":76},{"r":1,"c":[6],"t":41,"v":65},{"r":1,"c":[6],"t":45,"v":70},{"r":1,"c":[6],"t":48,"v":68},{"r":1,"c":[6],"t":52,"v":61},{"r":1,"c":[6],"t":55,"v":46},{"r":1,"c":[6],"t":58,"v":47},{"r":1,"c":[6],"t":61,"v":55},{"r":1,"c":[6],"t":63,"v":47},{"r":1,"c":[6],"t":66,"v":44},{"r":1,"c":[6],"t":69,"v":55},{"r":1,"c":[6],"t":73,"v":61},{"r":1,"c":[6],"t":76,"v":70},{"r":1,"c":[6],"t":79,"v":65},{"r":1,"c":[6],"t":83,"v":68},{"r":1,"c":[6],"t":88,"v":62},{"r":1,"c":[6],"t":91,"v":58},{"r":1,"c":[6],"t":94,"v":50},{"r":1,"c":[6],"t":96,"v":46},{"r":1,"c":[6],"t":98,"v":58},{"r":1,"c":[6],"t":100,"v":70},
{"r":1,"c":[7],"t":0,"v":70},{"r":1,"c":[7],"t":5,"v":66},{"r":1,"c":[7],"t":10,"v":62},{"r":1,"c":[7],"t":15,"v":68},{"r":1,"c":[7],"t":23,"v":73},{"r":1,"c":[7],"t":29,"v":68},{"r":1,"c":[7],"t":37,"v":60},{"r":1,"c":[7],"t":44,"v":72},{"r":1,"c":[7],"t":54,"v":70},{"r":1,"c":[7],"t":63,"v":66},{"r":1,"c":[7],"t":70,"v":77},{"r":1,"c":[7],"t":75,"v":73},{"r":1,"c":[7],"t":81,"v":66},{"r":1,"c":[7],"t":88,"v":62},{"r":1,"c":[7],"t":92,"v":65},{"r":1,"c":[7],"t":97,"v":70},{"r":1,"c":[7],"t":100,"v":76},
{"r":1,"c":[8],"t":0,"v":77},{"r":1,"c":[8],"t":3,"v":63},{"r":1,"c":[8],"t":6,"v":65},{"r":1,"c":[8],"t":10,"v":54},{"r":1,"c":[8],"t":12,"v":60},{"r":1,"c":[8],"t":15,"v":82},{"r":1,"c":[8],"t":19,"v":85},{"r":1,"c":[8],"t":22,"v":88},{"r":1,"c":[8],"t":25,"v":85},{"r":1,"c":[8],"t":29,"v":76},{"r":1,"c":[8],"t":32,"v":66},{"r":1,"c":[8],"t":35,"v":57},{"r":1,"c":[8],"t":39,"v":47},{"r":1,"c":[8],"t":42,"v":59},{"r":1,"c":[8],"t":45,"v":73},{"r":1,"c":[8],"t":49,"v":70},{"r":1,"c":[8],"t":52,"v":65},{"r":1,"c":[8],"t":55,"v":68},{"r":1,"c":[8],"t":59,"v":76},{"r":1,"c":[8],"t":62,"v":73},{"r":1,"c":[8],"t":65,"v":63},{"r":1,"c":[8],"t":68,"v":76},{"r":1,"c":[8],"t":70,"v":97},{"r":1,"c":[8],"t":72,"v":98},{"r":1,"c":[8],"t":74,"v":83},{"r":1,"c":[8],"t":78,"v":71},{"r":1,"c":[8],"t":82,"v":70},{"r":1,"c":[8],"t":86,"v":66},{"r":1,"c":[8],"t":88,"v":54},{"r":1,"c":[8],"t":91,"v":51},{"r":1,"c":[8],"t":94,"v":50},{"r":1,"c":[8],"t":97,"v":60},{"r":1,"c":[8],"t":98,"v":70},{"r":1,"c":[8],"t":100,"v":82},
{"r":2,"c":[1],"t":0,"v":69},{"r":2,"c":[1],"t":4,"v":52},{"r":2,"c":[1],"t":7,"v":35},{"r":2,"c":[1],"t":9,"v":33},{"r":2,"c":[1],"t":12,"v":44},{"r":2,"c":[1],"t":14,"v":49},{"r":2,"c":[1],"t":17,"v":41},{"r":2,"c":[1],"t":20,"v":24},{"r":2,"c":[1],"t":23,"v":30},{"r":2,"c":[1],"t":26,"v":36},{"r":2,"c":[1],"t":29,"v":40},{"r":2,"c":[1],"t":33,"v":44},{"r":2,"c":[1],"t":37,"v":41},{"r":2,"c":[1],"t":40,"v":48},{"r":2,"c":[1],"t":43,"v":65},{"r":2,"c":[1],"t":46,"v":66},{"r":2,"c":[1],"t":49,"v":64},{"r":2,"c":[1],"t":51,"v":70},{"r":2,"c":[1],"t":53,"v":77},{"r":2,"c":[1],"t":57,"v":72},{"r":2,"c":[1],"t":60,"v":70},{"r":2,"c":[1],"t":63,"v":65},{"r":2,"c":[1],"t":65,"v":56},{"r":2,"c":[1],"t":67,"v":33},{"r":2,"c":[1],"t":70,"v":14},{"r":2,"c":[1],"t":73,"v":2},{"r":2,"c":[1],"t":75,"v":1},{"r":2,"c":[1],"t":78,"v":17},{"r":2,"c":[1],"t":81,"v":46},{"r":2,"c":[1],"t":83,"v":57},{"r":2,"c":[1],"t":86,"v":62},{"r":2,"c":[1],"t":91,"v":63},{"r":2,"c":[1],"t":95,"v":65},{"r":2,"c":[1],"t":98,"v":64},{"r":2,"c":[1],"t":100,"v":46},
{"r":2,"c":[2],"t":0,"v":42},{"r":2,"c":[2],"t":3,"v":44},{"r":2,"c":[2],"t":7,"v":38},{"r":2,"c":[2],"t":11,"v":43},{"r":2,"c":[2],"t":14,"v":41},{"r":2,"c":[2],"t":17,"v":38},{"r":2,"c":[2],"t":21,"v":43},{"r":2,"c":[2],"t":26,"v":42},{"r":2,"c":[2],"t":31,"v":43},{"r":2,"c":[2],"t":35,"v":40},{"r":2,"c":[2],"t":40,"v":43},{"r":2,"c":[2],"t":44,"v":41},{"r":2,"c":[2],"t":48,"v":44},{"r":2,"c":[2],"t":52,"v":41},{"r":2,"c":[2],"t":55,"v":44},{"r":2,"c":[2],"t":59,"v":42},{"r":2,"c":[2],"t":63,"v":45},{"r":2,"c":[2],"t":67,"v":39},{"r":2,"c":[2],"t":71,"v":40},{"r":2,"c":[2],"t":75,"v":39},{"r":2,"c":[2],"t":78,"v":49},{"r":2,"c":[2],"t":82,"v":48},{"r":2,"c":[2],"t":86,"v":46},{"r":2,"c":[2],"t":92,"v":44},{"r":2,"c":[2],"t":95,"v":46},{"r":2,"c":[2],"t":100,"v":42},
{"r":2,"c":[3],"t":0,"v":72},{"r":2,"c":[3],"t":4,"v":58},{"r":2,"c":[3],"t":9,"v":43},{"r":2,"c":[3],"t":13,"v":45},{"r":2,"c":[3],"t":20,"v":30},{"r":2,"c":[3],"t":26,"v":39},{"r":2,"c":[3],"t":33,"v":47},{"r":2,"c":[3],"t":37,"v":48},{"r":2,"c":[3],"t":42,"v":61},{"r":2,"c":[3],"t":46,"v":71},{"r":2,"c":[3],"t":52,"v":80},{"r":2,"c":[3],"t":55,"v":82},{"r":2,"c":[3],"t":59,"v":77},{"r":2,"c":[3],"t":62,"v":71},{"r":2,"c":[3],"t":66,"v":45},{"r":2,"c":[3],"t":70,"v":19},{"r":2,"c":[3],"t":75,"v":0},{"r":2,"c":[3],"t":78,"v":13},{"r":2,"c":[3],"t":81,"v":35},{"r":2,"c":[3],"t":86,"v":51},{"r":2,"c":[3],"t":90,"v":61},{"r":2,"c":[3],"t":94,"v":71},{"r":2,"c":[3],"t":97,"v":71},{"r":2,"c":[3],"t":100,"v":53},
{"r":2,"c":[4],"t":0,"v":43},{"r":2,"c":[4],"t":4,"v":54},{"r":2,"c":[4],"t":9,"v":49},{"r":2,"c":[4],"t":12,"v":43},{"r":2,"c":[4],"t":17,"v":49},{"r":2,"c":[4],"t":22,"v":43},{"r":2,"c":[4],"t":29,"v":48},{"r":2,"c":[4],"t":35,"v":51},{"r":2,"c":[4],"t":41,"v":44},{"r":2,"c":[4],"t":47,"v":51},{"r":2,"c":[4],"t":54,"v":61},{"r":2,"c":[4],"t":61,"v":69},{"r":2,"c":[4],"t":67,"v":74},{"r":2,"c":[4],"t":71,"v":61},{"r":2,"c":[4],"t":75,"v":41},{"r":2,"c":[4],"t":79,"v":26},{"r":2,"c":[4],"t":84,"v":33},{"r":2,"c":[4],"t":90,"v":40},{"r":2,"c":[4],"t":95,"v":39},{"r":2,"c":[4],"t":100,"v":38},
{"r":2,"c":[5],"t":1,"v":16},{"r":2,"c":[5],"t":3,"v":17},{"r":2,"c":[5],"t":6,"v":40},{"r":2,"c":[5],"t":10,"v":61},{"r":2,"c":[5],"t":13,"v":61},{"r":2,"c":[5],"t":16,"v":51},{"r":2,"c":[5],"t":19,"v":33},{"r":2,"c":[5],"t":23,"v":13},{"r":2,"c":[5],"t":26,"v":31},{"r":2,"c":[5],"t":30,"v":46},{"r":2,"c":[5],"t":33,"v":53},{"r":2,"c":[5],"t":36,"v":74},{"r":2,"c":[5],"t":38,"v":81},{"r":2,"c":[5],"t":41,"v":72},{"r":2,"c":[5],"t":45,"v":63},{"r":2,"c":[5],"t":48,"v":63},{"r":2,"c":[5],"t":52,"v":56},{"r":2,"c":[5],"t":55,"v":48},{"r":2,"c":[5],"t":59,"v":49},{"r":2,"c":[5],"t":63,"v":33},{"r":2,"c":[5],"t":66,"v":25},{"r":2,"c":[5],"t":69,"v":31},{"r":2,"c":[5],"t":72,"v":53},{"r":2,"c":[5],"t":75,"v":66},{"r":2,"c":[5],"t":79,"v":76},{"r":2,"c":[5],"t":82,"v":53},{"r":2,"c":[5],"t":85,"v":46},{"r":2,"c":[5],"t":89,"v":46},{"r":2,"c":[5],"t":94,"v":33},{"r":2,"c":[5],"t":97,"v":23},{"r":2,"c":[5],"t":100,"v":25},
{"r":2,"c":[6],"t":0,"v":62},{"r":2,"c":[6],"t":3,"v":66},{"r":2,"c":[6],"t":5,"v":46},{"r":2,"c":[6],"t":8,"v":36},{"r":2,"c":[6],"t":11,"v":19},{"r":2,"c":[6],"t":14,"v":13},{"r":2,"c":[6],"t":18,"v":39},{"r":2,"c":[6],"t":21,"v":54},{"r":2,"c":[6],"t":24,"v":52},{"r":2,"c":[6],"t":26,"v":19},{"r":2,"c":[6],"t":28,"v":8},{"r":2,"c":[6],"t":31,"v":26},{"r":2,"c":[6],"t":34,"v":16},{"r":2,"c":[6],"t":37,"v":0},{"r":2,"c":[6],"t":40,"v":19},{"r":2,"c":[6],"t":43,"v":33},{"r":2,"c":[6],"t":46,"v":23},{"r":2,"c":[6],"t":49,"v":21},{"r":2,"c":[6],"t":53,"v":29},{"r":2,"c":[6],"t":56,"v":66},{"r":2,"c":[6],"t":59,"v":56},{"r":2,"c":[6],"t":62,"v":67},{"r":2,"c":[6],"t":65,"v":72},{"r":2,"c":[6],"t":68,"v":82},{"r":2,"c":[6],"t":71,"v":62},{"r":2,"c":[6],"t":74,"v":52},{"r":2,"c":[6],"t":77,"v":59},{"r":2,"c":[6],"t":80,"v":51},{"r":2,"c":[6],"t":83,"v":62},{"r":2,"c":[6],"t":86,"v":69},{"r":2,"c":[6],"t":90,"v":74},{"r":2,"c":[6],"t":93,"v":82},{"r":2,"c":[6],"t":95,"v":99},{"r":2,"c":[6],"t":97,"v":92},{"r":2,"c":[6],"t":100,"v":62},
{"r":2,"c":[7],"t":0,"v":41},{"r":2,"c":[7],"t":4,"v":45},{"r":2,"c":[7],"t":8,"v":47},{"r":2,"c":[7],"t":12,"v":51},{"r":2,"c":[7],"t":15,"v":47},{"r":2,"c":[7],"t":18,"v":38},{"r":2,"c":[7],"t":23,"v":35},{"r":2,"c":[7],"t":27,"v":39},{"r":2,"c":[7],"t":31,"v":47},{"r":2,"c":[7],"t":37,"v":51},{"r":2,"c":[7],"t":40,"v":47},{"r":2,"c":[7],"t":46,"v":35},{"r":2,"c":[7],"t":51,"v":38},{"r":2,"c":[7],"t":57,"v":39},{"r":2,"c":[7],"t":61,"v":36},{"r":2,"c":[7],"t":66,"v":39},{"r":2,"c":[7],"t":70,"v":29},{"r":2,"c":[7],"t":73,"v":27},{"r":2,"c":[7],"t":77,"v":35},{"r":2,"c":[7],"t":83,"v":39},{"r":2,"c":[7],"t":89,"v":47},{"r":2,"c":[7],"t":93,"v":48},{"r":2,"c":[7],"t":97,"v":44},{"r":2,"c":[7],"t":100,"v":30},
{"r":2,"c":[8],"t":0,"v":34},{"r":2,"c":[8],"t":4,"v":32},{"r":2,"c":[8],"t":9,"v":18},{"r":2,"c":[8],"t":13,"v":0},{"r":2,"c":[8],"t":17,"v":13},{"r":2,"c":[8],"t":20,"v":42},{"r":2,"c":[8],"t":23,"v":65},{"r":2,"c":[8],"t":27,"v":81},{"r":2,"c":[8],"t":30,"v":83},{"r":2,"c":[8],"t":33,"v":74},{"r":2,"c":[8],"t":36,"v":52},{"r":2,"c":[8],"t":40,"v":26},{"r":2,"c":[8],"t":44,"v":15},{"r":2,"c":[8],"t":47,"v":29},{"r":2,"c":[8],"t":50,"v":37},{"r":2,"c":[8],"t":53,"v":39},{"r":2,"c":[8],"t":58,"v":36},{"r":2,"c":[8],"t":62,"v":45},{"r":2,"c":[8],"t":66,"v":47},{"r":2,"c":[8],"t":69,"v":42},{"r":2,"c":[8],"t":71,"v":61},{"r":2,"c":[8],"t":74,"v":97},{"r":2,"c":[8],"t":76,"v":98},{"r":2,"c":[8],"t":80,"v":90},{"r":2,"c":[8],"t":84,"v":84},{"r":2,"c":[8],"t":89,"v":79},{"r":2,"c":[8],"t":92,"v":55},{"r":2,"c":[8],"t":96,"v":32},{"r":2,"c":[8],"t":98,"v":23},{"r":2,"c":[8],"t":100,"v":21},
{"r":3,"c":[1],"t":0,"v":94},{"r":3,"c":[1],"t":2,"v":96},{"r":3,"c":[1],"t":3,"v":38},{"r":3,"c":[1],"t":4,"v":60},{"r":3,"c":[1],"t":6,"v":59},{"r":3,"c":[1],"t":8,"v":70},{"r":3,"c":[1],"t":10,"v":79},{"r":3,"c":[1],"t":12,"v":87},{"r":3,"c":[1],"t":14,"v":68},{"r":3,"c":[1],"t":16,"v":56},{"r":3,"c":[1],"t":17,"v":38},{"r":3,"c":[1],"t":18,"v":60},{"r":3,"c":[1],"t":21,"v":56},{"r":3,"c":[1],"t":22,"v":65},{"r":3,"c":[1],"t":24,"v":60},{"r":3,"c":[1],"t":27,"v":66},{"r":3,"c":[1],"t":29,"v":60},{"r":3,"c":[1],"t":31,"v":65},{"r":3,"c":[1],"t":32,"v":62},{"r":3,"c":[1],"t":35,"v":57},{"r":3,"c":[1],"t":37,"v":73},{"r":3,"c":[1],"t":39,"v":84},{"r":3,"c":[1],"t":41,"v":82},{"r":3,"c":[1],"t":43,"v":73},{"r":3,"c":[1],"t":45,"v":72},{"r":3,"c":[1],"t":47,"v":73},{"r":3,"c":[1],"t":49,"v":91},{"r":3,"c":[1],"t":50,"v":99},{"r":3,"c":[1],"t":52,"v":85},{"r":3,"c":[1],"t":54,"v":87},{"r":3,"c":[1],"t":55,"v":91},{"r":3,"c":[1],"t":57,"v":79},{"r":3,"c":[1],"t":59,"v":97},{"r":3,"c":[1],"t":61,"v":79},{"r":3,"c":[1],"t":63,"v":68},{"r":3,"c":[1],"t":65,"v":53},{"r":3,"c":[1],"t":66,"v":28},{"r":3,"c":[1],"t":67,"v":44},{"r":3,"c":[1],"t":68,"v":17},{"r":3,"c":[1],"t":69,"v":38},{"r":3,"c":[1],"t":71,"v":26},{"r":3,"c":[1],"t":72,"v":2},{"r":3,"c":[1],"t":73,"v":29},{"r":3,"c":[1],"t":75,"v":41},{"r":3,"c":[1],"t":77,"v":68},{"r":3,"c":[1],"t":78,"v":79},{"r":3,"c":[1],"t":81,"v":73},{"r":3,"c":[1],"t":82,"v":78},{"r":3,"c":[1],"t":85,"v":75},{"r":3,"c":[1],"t":87,"v":79},{"r":3,"c":[1],"t":89,"v":76},{"r":3,"c":[1],"t":91,"v":82},{"r":3,"c":[1],"t":93,"v":79},{"r":3,"c":[1],"t":95,"v":88},{"r":3,"c":[1],"t":97,"v":76},{"r":3,"c":[1],"t":99,"v":56},{"r":3,"c":[1],"t":100,"v":38},
{"r":3,"c":[2],"t":0,"v":67},{"r":3,"c":[2],"t":1.3,"v":76},{"r":3,"c":[2],"t":2.3,"v":77},{"r":3,"c":[2],"t":3.4,"v":39},{"r":3,"c":[2],"t":4.9,"v":50},{"r":3,"c":[2],"t":7,"v":55},{"r":3,"c":[2],"t":9.1,"v":67},{"r":3,"c":[2],"t":10.9,"v":73},{"r":3,"c":[2],"t":12.2,"v":55},{"r":3,"c":[2],"t":14.3,"v":59},{"r":3,"c":[2],"t":16.1,"v":32},{"r":3,"c":[2],"t":17.4,"v":42},{"r":3,"c":[2],"t":19.3,"v":55},{"r":3,"c":[2],"t":21.4,"v":64},{"r":3,"c":[2],"t":23.4,"v":59},{"r":3,"c":[2],"t":25.3,"v":64},{"r":3,"c":[2],"t":27.3,"v":62},{"r":3,"c":[2],"t":29.2,"v":56},{"r":3,"c":[2],"t":31,"v":52},{"r":3,"c":[2],"t":33.1,"v":64},{"r":3,"c":[2],"t":35.2,"v":64},{"r":3,"c":[2],"t":37.5,"v":55},{"r":3,"c":[2],"t":39.6,"v":65},{"r":3,"c":[2],"t":42.2,"v":67},{"r":3,"c":[2],"t":44,"v":61},{"r":3,"c":[2],"t":46.1,"v":48},{"r":3,"c":[2],"t":48.2,"v":67},{"r":3,"c":[2],"t":50,"v":67},{"r":3,"c":[2],"t":51.3,"v":73},{"r":3,"c":[2],"t":53.1,"v":52},{"r":3,"c":[2],"t":53.9,"v":39},{"r":3,"c":[2],"t":54.7,"v":61},{"r":3,"c":[2],"t":56.5,"v":73},{"r":3,"c":[2],"t":58.3,"v":67},{"r":3,"c":[2],"t":59.9,"v":70},{"r":3,"c":[2],"t":61.7,"v":64},{"r":3,"c":[2],"t":63.5,"v":68},{"r":3,"c":[2],"t":65.1,"v":42},{"r":3,"c":[2],"t":66.4,"v":30},{"r":3,"c":[2],"t":67.7,"v":55},{"r":3,"c":[2],"t":69.5,"v":39},{"r":3,"c":[2],"t":70.8,"v":48},{"r":3,"c":[2],"t":72.7,"v":36},{"r":3,"c":[2],"t":74.2,"v":42},{"r":3,"c":[2],"t":76,"v":61},{"r":3,"c":[2],"t":77.3,"v":76},{"r":3,"c":[2],"t":79.2,"v":64},{"r":3,"c":[2],"t":81.3,"v":64},{"r":3,"c":[2],"t":83.1,"v":67},{"r":3,"c":[2],"t":85.2,"v":59},{"r":3,"c":[2],"t":87,"v":61},{"r":3,"c":[2],"t":88.5,"v":58},{"r":3,"c":[2],"t":90.4,"v":64},{"r":3,"c":[2],"t":92.2,"v":58},{"r":3,"c":[2],"t":93.8,"v":67},{"r":3,"c":[2],"t":95.6,"v":71},{"r":3,"c":[2],"t":96.9,"v":70},{"r":3,"c":[2],"t":98.2,"v":48},{"r":3,"c":[2],"t":100,"v":36},
{"r":3,"c":[3],"t":0,"v":84},{"r":3,"c":[3],"t":3,"v":82},{"r":3,"c":[3],"t":4,"v":70},{"r":3,"c":[3],"t":8,"v":60},{"r":3,"c":[3],"t":11,"v":59},{"r":3,"c":[3],"t":15,"v":54},{"r":3,"c":[3],"t":20,"v":42},{"r":3,"c":[3],"t":24,"v":39},{"r":3,"c":[3],"t":28,"v":36},{"r":3,"c":[3],"t":32,"v":40},{"r":3,"c":[3],"t":36,"v":43},{"r":3,"c":[3],"t":41,"v":42},{"r":3,"c":[3],"t":46,"v":54},{"r":3,"c":[3],"t":52,"v":67},{"r":3,"c":[3],"t":55,"v":77},{"r":3,"c":[3],"t":58,"v":98},{"r":3,"c":[3],"t":61,"v":99},{"r":3,"c":[3],"t":64,"v":90},{"r":3,"c":[3],"t":67,"v":39},{"r":3,"c":[3],"t":70,"v":14},{"r":3,"c":[3],"t":73,"v":0},{"r":3,"c":[3],"t":75,"v":11},{"r":3,"c":[3],"t":78,"v":29},{"r":3,"c":[3],"t":82,"v":42},{"r":3,"c":[3],"t":86,"v":54},{"r":3,"c":[3],"t":90,"v":60},{"r":3,"c":[3],"t":94,"v":71},{"r":3,"c":[3],"t":96,"v":73},{"r":3,"c":[3],"t":100,"v":60},
{"r":3,"c":[4],"t":0,"v":19},{"r":3,"c":[4],"t":4,"v":8},{"r":3,"c":[4],"t":7,"v":5},{"r":3,"c":[4],"t":11,"v":9},{"r":3,"c":[4],"t":13,"v":20},{"r":3,"c":[4],"t":16,"v":14},{"r":3,"c":[4],"t":18,"v":0},{"r":3,"c":[4],"t":21,"v":11},{"r":3,"c":[4],"t":23,"v":9},{"r":3,"c":[4],"t":26,"v":17},{"r":3,"c":[4],"t":30,"v":22},{"r":3,"c":[4],"t":34,"v":25},{"r":3,"c":[4],"t":37,"v":17},{"r":3,"c":[4],"t":39,"v":11},{"r":3,"c":[4],"t":42,"v":22},{"r":3,"c":[4],"t":46,"v":26},{"r":3,"c":[4],"t":50,"v":34},{"r":3,"c":[4],"t":54,"v":45},{"r":3,"c":[4],"t":56,"v":64},{"r":3,"c":[4],"t":59,"v":77},{"r":3,"c":[4],"t":62,"v":99},{"r":3,"c":[4],"t":64,"v":94},{"r":3,"c":[4],"t":67,"v":73},{"r":3,"c":[4],"t":70,"v":71},{"r":3,"c":[4],"t":72,"v":45},{"r":3,"c":[4],"t":75,"v":33},{"r":3,"c":[4],"t":78,"v":42},{"r":3,"c":[4],"t":81,"v":54},{"r":3,"c":[4],"t":85,"v":59},{"r":3,"c":[4],"t":90,"v":56},{"r":3,"c":[4],"t":93,"v":59},{"r":3,"c":[4],"t":97,"v":56},{"r":3,"c":[4],"t":100,"v":33},
{"r":3,"c":[5],"t":0,"v":60},{"r":3,"c":[5],"t":5,"v":57},{"r":3,"c":[5],"t":11,"v":54},{"r":3,"c":[5],"t":15,"v":57},{"r":3,"c":[5],"t":21,"v":60},{"r":3,"c":[5],"t":26,"v":57},{"r":3,"c":[5],"t":32,"v":51},{"r":3,"c":[5],"t":37,"v":46},{"r":3,"c":[5],"t":42,"v":45},{"r":3,"c":[5],"t":47,"v":46},{"r":3,"c":[5],"t":53,"v":50},{"r":3,"c":[5],"t":58,"v":54},{"r":3,"c":[5],"t":63,"v":56},{"r":3,"c":[5],"t":68,"v":53},{"r":3,"c":[5],"t":74,"v":50},{"r":3,"c":[5],"t":79,"v":50},{"r":3,"c":[5],"t":84,"v":51},{"r":3,"c":[5],"t":90,"v":54},{"r":3,"c":[5],"t":95,"v":59},{"r":3,"c":[5],"t":100,"v":60},
{"r":3,"c":[6],"t":0,"v":40},{"r":3,"c":[6],"t":7,"v":42},{"r":3,"c":[6],"t":15,"v":44},{"r":3,"c":[6],"t":23,"v":42},{"r":3,"c":[6],"t":31,"v":46},{"r":3,"c":[6],"t":39,"v":45},{"r":3,"c":[6],"t":47,"v":47},{"r":3,"c":[6],"t":55,"v":44},{"r":3,"c":[6],"t":63,"v":46},{"r":3,"c":[6],"t":71,"v":42},{"r":3,"c":[6],"t":79,"v":44},{"r":3,"c":[6],"t":87,"v":42},{"r":3,"c":[6],"t":95,"v":39},{"r":3,"c":[6],"t":100,"v":42},
{"r":3,"c":[7],"t":0,"v":50},{"r":3,"c":[7],"t":7,"v":48},{"r":3,"c":[7],"t":17,"v":50},{"r":3,"c":[7],"t":27,"v":51},{"r":3,"c":[7],"t":37,"v":49},{"r":3,"c":[7],"t":47,"v":51},{"r":3,"c":[7],"t":57,"v":51},{"r":3,"c":[7],"t":67,"v":53},{"r":3,"c":[7],"t":77,"v":53},{"r":3,"c":[7],"t":87,"v":53},{"r":3,"c":[7],"t":94,"v":54},{"r":3,"c":[7],"t":100,"v":56},
{"r":3,"c":[8],"t":0,"v":47},{"r":3,"c":[8],"t":5,"v":45},{"r":3,"c":[8],"t":11,"v":47},{"r":3,"c":[8],"t":18,"v":50},{"r":3,"c":[8],"t":26,"v":50},{"r":3,"c":[8],"t":34,"v":45},{"r":3,"c":[8],"t":42,"v":47},{"r":3,"c":[8],"t":50,"v":47},{"r":3,"c":[8],"t":58,"v":49},{"r":3,"c":[8],"t":68,"v":53},{"r":3,"c":[8],"t":76,"v":51},{"r":3,"c":[8],"t":84,"v":50},{"r":3,"c":[8],"t":92,"v":46},{"r":3,"c":[8],"t":100,"v":52},
{"r":4,"c":[1],"t":0,"v":87},{"r":4,"c":[1],"t":2,"v":96},{"r":4,"c":[1],"t":4,"v":72},{"r":4,"c":[1],"t":7,"v":55},{"r":4,"c":[1],"t":10,"v":72},{"r":4,"c":[1],"t":13,"v":80},{"r":4,"c":[1],"t":15,"v":72},{"r":4,"c":[1],"t":17,"v":48},{"r":4,"c":[1],"t":20,"v":36},{"r":4,"c":[1],"t":22,"v":51},{"r":4,"c":[1],"t":25,"v":48},{"r":4,"c":[1],"t":28,"v":46},{"r":4,"c":[1],"t":31,"v":52},{"r":4,"c":[1],"t":34,"v":46},{"r":4,"c":[1],"t":36,"v":39},{"r":4,"c":[1],"t":39,"v":57},{"r":4,"c":[1],"t":42,"v":74},{"r":4,"c":[1],"t":45,"v":71},{"r":4,"c":[1],"t":48,"v":81},{"r":4,"c":[1],"t":51,"v":92},{"r":4,"c":[1],"t":53,"v":99},{"r":4,"c":[1],"t":55,"v":90},{"r":4,"c":[1],"t":57,"v":96},{"r":4,"c":[1],"t":60,"v":98},{"r":4,"c":[1],"t":63,"v":99},{"r":4,"c":[1],"t":65,"v":84},{"r":4,"c":[1],"t":67,"v":66},{"r":4,"c":[1],"t":69,"v":40},{"r":4,"c":[1],"t":71,"v":37},{"r":4,"c":[1],"t":74,"v":18},{"r":4,"c":[1],"t":75,"v":1},{"r":4,"c":[1],"t":77,"v":12},{"r":4,"c":[1],"t":79,"v":46},{"r":4,"c":[1],"t":82,"v":56},{"r":4,"c":[1],"t":85,"v":62},{"r":4,"c":[1],"t":89,"v":68},{"r":4,"c":[1],"t":92,"v":72},{"r":4,"c":[1],"t":94,"v":77},{"r":4,"c":[1],"t":96,"v":83},{"r":4,"c":[1],"t":97,"v":78},{"r":4,"c":[1],"t":99,"v":68},{"r":4,"c":[1],"t":100,"v":55},
{"r":4,"c":[2],"t":0,"v":63},{"r":4,"c":[2],"t":2,"v":78},{"r":4,"c":[2],"t":4,"v":66},{"r":4,"c":[2],"t":7,"v":40},{"r":4,"c":[2],"t":10,"v":60},{"r":4,"c":[2],"t":13,"v":73},{"r":4,"c":[2],"t":15,"v":67},{"r":4,"c":[2],"t":18,"v":41},{"r":4,"c":[2],"t":20,"v":43},{"r":4,"c":[2],"t":22,"v":64},{"r":4,"c":[2],"t":25,"v":64},{"r":4,"c":[2],"t":27,"v":58},{"r":4,"c":[2],"t":29,"v":61},{"r":4,"c":[2],"t":32,"v":67},{"r":4,"c":[2],"t":34,"v":58},{"r":4,"c":[2],"t":37,"v":49},{"r":4,"c":[2],"t":39,"v":69},{"r":4,"c":[2],"t":42,"v":73},{"r":4,"c":[2],"t":44,"v":67},{"r":4,"c":[2],"t":47,"v":55},{"r":4,"c":[2],"t":50,"v":66},{"r":4,"c":[2],"t":52,"v":63},{"r":4,"c":[2],"t":55,"v":78},{"r":4,"c":[2],"t":56,"v":64},{"r":4,"c":[2],"t":59,"v":61},{"r":4,"c":[2],"t":61,"v":69},{"r":4,"c":[2],"t":63,"v":70},{"r":4,"c":[2],"t":65,"v":57},{"r":4,"c":[2],"t":67,"v":50},{"r":4,"c":[2],"t":69,"v":31},{"r":4,"c":[2],"t":70,"v":49},{"r":4,"c":[2],"t":73,"v":43},{"r":4,"c":[2],"t":75,"v":29},{"r":4,"c":[2],"t":77,"v":50},{"r":4,"c":[2],"t":79,"v":52},{"r":4,"c":[2],"t":81,"v":78},{"r":4,"c":[2],"t":84,"v":75},{"r":4,"c":[2],"t":86,"v":70},{"r":4,"c":[2],"t":88,"v":64},{"r":4,"c":[2],"t":90,"v":64},{"r":4,"c":[2],"t":92,"v":67},{"r":4,"c":[2],"t":95,"v":78},{"r":4,"c":[2],"t":97,"v":76},{"r":4,"c":[2],"t":98,"v":66},{"r":4,"c":[2],"t":100,"v":52},
{"r":4,"c":[3],"t":0,"v":78},{"r":4,"c":[3],"t":4,"v":79},{"r":4,"c":[3],"t":7,"v":71},{"r":4,"c":[3],"t":10,"v":59},{"r":4,"c":[3],"t":15,"v":59},{"r":4,"c":[3],"t":18,"v":55},{"r":4,"c":[3],"t":21,"v":40},{"r":4,"c":[3],"t":24,"v":30},{"r":4,"c":[3],"t":29,"v":30},{"r":4,"c":[3],"t":33,"v":30},{"r":4,"c":[3],"t":37,"v":28},{"r":4,"c":[3],"t":40,"v":38},{"r":4,"c":[3],"t":44,"v":53},{"r":4,"c":[3],"t":49,"v":66},{"r":4,"c":[3],"t":53,"v":83},{"r":4,"c":[3],"t":58,"v":92},{"r":4,"c":[3],"t":61,"v":100},{"r":4,"c":[3],"t":64,"v":92},{"r":4,"c":[3],"t":68,"v":68},{"r":4,"c":[3],"t":71,"v":45},{"r":4,"c":[3],"t":74,"v":18},{"r":4,"c":[3],"t":78,"v":0},{"r":4,"c":[3],"t":81,"v":8},{"r":4,"c":[3],"t":84,"v":22},{"r":4,"c":[3],"t":89,"v":38},{"r":4,"c":[3],"t":93,"v":50},{"r":4,"c":[3],"t":97,"v":61},{"r":4,"c":[3],"t":100,"v":58},
{"r":4,"c":[4],"t":0,"v":9},{"r":4,"c":[4],"t":1,"v":2},{"r":4,"c":[4],"t":4,"v":22},{"r":4,"c":[4],"t":6,"v":37},{"r":4,"c":[4],"t":8,"v":49},{"r":4,"c":[4],"t":10,"v":43},{"r":4,"c":[4],"t":13,"v":20},{"r":4,"c":[4],"t":14,"v":19},{"r":4,"c":[4],"t":16,"v":37},{"r":4,"c":[4],"t":18,"v":57},{"r":4,"c":[4],"t":20,"v":59},{"r":4,"c":[4],"t":22,"v":26},{"r":4,"c":[4],"t":24,"v":29},{"r":4,"c":[4],"t":26,"v":32},{"r":4,"c":[4],"t":29,"v":26},{"r":4,"c":[4],"t":32,"v":29},{"r":4,"c":[4],"t":35,"v":37},{"r":4,"c":[4],"t":37,"v":51},{"r":4,"c":[4],"t":40,"v":48},{"r":4,"c":[4],"t":41,"v":29},{"r":4,"c":[4],"t":44,"v":22},{"r":4,"c":[4],"t":46,"v":25},{"r":4,"c":[4],"t":49,"v":14},{"r":4,"c":[4],"t":51,"v":5},{"r":4,"c":[4],"t":53,"v":17},{"r":4,"c":[4],"t":55,"v":11},{"r":4,"c":[4],"t":58,"v":12},{"r":4,"c":[4],"t":60,"v":12},{"r":4,"c":[4],"t":62,"v":5},{"r":4,"c":[4],"t":64,"v":12},{"r":4,"c":[4],"t":66,"v":75},{"r":4,"c":[4],"t":69,"v":65},{"r":4,"c":[4],"t":71,"v":77},{"r":4,"c":[4],"t":73,"v":91},{"r":4,"c":[4],"t":75,"v":100},{"r":4,"c":[4],"t":77,"v":77},{"r":4,"c":[4],"t":79,"v":42},{"r":4,"c":[4],"t":81,"v":28},{"r":4,"c":[4],"t":84,"v":29},{"r":4,"c":[4],"t":87,"v":32},{"r":4,"c":[4],"t":89,"v":34},{"r":4,"c":[4],"t":92,"v":39},{"r":4,"c":[4],"t":95,"v":35},{"r":4,"c":[4],"t":97,"v":43},{"r":4,"c":[4],"t":100,"v":63},
{"r":4,"c":[5],"t":0,"v":57},{"r":4,"c":[5],"t":4,"v":59},{"r":4,"c":[5],"t":11,"v":62},{"r":4,"c":[5],"t":16,"v":59},{"r":4,"c":[5],"t":20,"v":54},{"r":4,"c":[5],"t":27,"v":56},{"r":4,"c":[5],"t":31,"v":59},{"r":4,"c":[5],"t":36,"v":65},{"r":4,"c":[5],"t":40,"v":71},{"r":4,"c":[5],"t":45,"v":75},{"r":4,"c":[5],"t":51,"v":73},{"r":4,"c":[5],"t":58,"v":68},{"r":4,"c":[5],"t":64,"v":62},{"r":4,"c":[5],"t":69,"v":58},{"r":4,"c":[5],"t":73,"v":63},{"r":4,"c":[5],"t":79,"v":69},{"r":4,"c":[5],"t":84,"v":69},{"r":4,"c":[5],"t":90,"v":67},{"r":4,"c":[5],"t":96,"v":62},{"r":4,"c":[5],"t":100,"v":57},
{"r":4,"c":[6],"t":0,"v":57},{"r":4,"c":[6],"t":3,"v":66},{"r":4,"c":[6],"t":6,"v":66},{"r":4,"c":[6],"t":10,"v":60},{"r":4,"c":[6],"t":13,"v":74},{"r":4,"c":[6],"t":16,"v":68},{"r":4,"c":[6],"t":21,"v":59},{"r":4,"c":[6],"t":25,"v":65},{"r":4,"c":[6],"t":28,"v":74},{"r":4,"c":[6],"t":31,"v":66},{"r":4,"c":[6],"t":35,"v":66},{"r":4,"c":[6],"t":38,"v":74},{"r":4,"c":[6],"t":41,"v":63},{"r":4,"c":[6],"t":45,"v":60},{"r":4,"c":[6],"t":49,"v":65},{"r":4,"c":[6],"t":52,"v":60},{"r":4,"c":[6],"t":57,"v":50},{"r":4,"c":[6],"t":60,"v":54},{"r":4,"c":[6],"t":64,"v":50},{"r":4,"c":[6],"t":68,"v":48},{"r":4,"c":[6],"t":71,"v":57},{"r":4,"c":[6],"t":74,"v":62},{"r":4,"c":[6],"t":79,"v":59},{"r":4,"c":[6],"t":83,"v":62},{"r":4,"c":[6],"t":87,"v":57},{"r":4,"c":[6],"t":92,"v":57},{"r":4,"c":[6],"t":96,"v":50},{"r":4,"c":[6],"t":98,"v":60},{"r":4,"c":[6],"t":100,"v":62},
{"r":4,"c":[7],"t":0,"v":63},{"r":4,"c":[7],"t":7,"v":62},{"r":4,"c":[7],"t":12,"v":60},{"r":4,"c":[7],"t":20,"v":65},{"r":4,"c":[7],"t":29,"v":64},{"r":4,"c":[7],"t":37,"v":61},{"r":4,"c":[7],"t":44,"v":60},{"r":4,"c":[7],"t":51,"v":63},{"r":4,"c":[7],"t":57,"v":65},{"r":4,"c":[7],"t":64,"v":64},{"r":4,"c":[7],"t":71,"v":66},{"r":4,"c":[7],"t":77,"v":62},{"r":4,"c":[7],"t":84,"v":62},{"r":4,"c":[7],"t":90,"v":60},{"r":4,"c":[7],"t":97,"v":62},{"r":4,"c":[7],"t":100,"v":65},
{"r":4,"c":[8],"t":0,"v":62},{"r":4,"c":[8],"t":5,"v":60},{"r":4,"c":[8],"t":9,"v":62},{"r":4,"c":[8],"t":12,"v":57},{"r":4,"c":[8],"t":16,"v":68},{"r":4,"c":[8],"t":20,"v":69},{"r":4,"c":[8],"t":25,"v":68},{"r":4,"c":[8],"t":30,"v":67},{"r":4,"c":[8],"t":34,"v":62},{"r":4,"c":[8],"t":38,"v":57},{"r":4,"c":[8],"t":42,"v":62},{"r":4,"c":[8],"t":48,"v":65},{"r":4,"c":[8],"t":52,"v":62},{"r":4,"c":[8],"t":58,"v":65},{"r":4,"c":[8],"t":61,"v":60},{"r":4,"c":[8],"t":66,"v":65},{"r":4,"c":[8],"t":70,"v":77},{"r":4,"c":[8],"t":72,"v":72},{"r":4,"c":[8],"t":75,"v":62},{"r":4,"c":[8],"t":79,"v":65},{"r":4,"c":[8],"t":83,"v":66},{"r":4,"c":[8],"t":87,"v":59},{"r":4,"c":[8],"t":91,"v":59},{"r":4,"c":[8],"t":96,"v":62},{"r":4,"c":[8],"t":100,"v":71},
{"r":5,"c":[1],"t":0,"v":29},{"r":5,"c":[1],"t":2,"v":29},{"r":5,"c":[1],"t":4,"v":42},{"r":5,"c":[1],"t":7,"v":48},{"r":5,"c":[1],"t":9,"v":45},{"r":5,"c":[1],"t":12,"v":42},{"r":5,"c":[1],"t":15,"v":52},{"r":5,"c":[1],"t":18,"v":63},{"r":5,"c":[1],"t":21,"v":64},{"r":5,"c":[1],"t":26,"v":66},{"r":5,"c":[1],"t":29,"v":64},{"r":5,"c":[1],"t":33,"v":64},{"r":5,"c":[1],"t":36,"v":65},{"r":5,"c":[1],"t":39,"v":58},{"r":5,"c":[1],"t":42,"v":48},{"r":5,"c":[1],"t":45,"v":45},{"r":5,"c":[1],"t":48,"v":40},{"r":5,"c":[1],"t":51,"v":32},{"r":5,"c":[1],"t":54,"v":26},{"r":5,"c":[1],"t":57,"v":21},{"r":5,"c":[1],"t":60,"v":20},{"r":5,"c":[1],"t":62,"v":21},{"r":5,"c":[1],"t":64,"v":32},{"r":5,"c":[1],"t":66,"v":51},{"r":5,"c":[1],"t":69,"v":71},{"r":5,"c":[1],"t":71,"v":85},{"r":5,"c":[1],"t":74,"v":88},{"r":5,"c":[1],"t":76,"v":83},{"r":5,"c":[1],"t":78,"v":76},{"r":5,"c":[1],"t":81,"v":71},{"r":5,"c":[1],"t":84,"v":58},{"r":5,"c":[1],"t":87,"v":48},{"r":5,"c":[1],"t":90,"v":42},{"r":5,"c":[1],"t":93,"v":39},{"r":5,"c":[1],"t":96,"v":37},{"r":5,"c":[1],"t":98,"v":42},{"r":5,"c":[1],"t":100,"v":50},
{"r":5,"c":[2],"t":0,"v":50},{"r":5,"c":[2],"t":3,"v":53},{"r":5,"c":[2],"t":8,"v":51},{"r":5,"c":[2],"t":11,"v":53},{"r":5,"c":[2],"t":16,"v":50},{"r":5,"c":[2],"t":22,"v":52},{"r":5,"c":[2],"t":27,"v":50},{"r":5,"c":[2],"t":33,"v":51},{"r":5,"c":[2],"t":37,"v":52},{"r":5,"c":[2],"t":43,"v":49},{"r":5,"c":[2],"t":48,"v":49},{"r":5,"c":[2],"t":54,"v":49},{"r":5,"c":[2],"t":59,"v":50},{"r":5,"c":[2],"t":63,"v":52},{"r":5,"c":[2],"t":69,"v":54},{"r":5,"c":[2],"t":73,"v":51},{"r":5,"c":[2],"t":78,"v":50},{"r":5,"c":[2],"t":83,"v":48},{"r":5,"c":[2],"t":90,"v":48},{"r":5,"c":[2],"t":94,"v":47},{"r":5,"c":[2],"t":97,"v":48},{"r":5,"c":[2],"t":100,"v":52},
{"r":5,"c":[3],"t":0,"v":30},{"r":5,"c":[3],"t":3,"v":33},{"r":5,"c":[3],"t":7,"v":43},{"r":5,"c":[3],"t":11,"v":43},{"r":5,"c":[3],"t":15,"v":52},{"r":5,"c":[3],"t":20,"v":62},{"r":5,"c":[3],"t":24,"v":66},{"r":5,"c":[3],"t":30,"v":67},{"r":5,"c":[3],"t":37,"v":66},{"r":5,"c":[3],"t":41,"v":55},{"r":5,"c":[3],"t":46,"v":42},{"r":5,"c":[3],"t":50,"v":30},{"r":5,"c":[3],"t":54,"v":22},{"r":5,"c":[3],"t":59,"v":16},{"r":5,"c":[3],"t":62,"v":15},{"r":5,"c":[3],"t":65,"v":25},{"r":5,"c":[3],"t":69,"v":48},{"r":5,"c":[3],"t":72,"v":72},{"r":5,"c":[3],"t":75,"v":87},{"r":5,"c":[3],"t":78,"v":88},{"r":5,"c":[3],"t":82,"v":82},{"r":5,"c":[3],"t":86,"v":68},{"r":5,"c":[3],"t":90,"v":57},{"r":5,"c":[3],"t":94,"v":45},{"r":5,"c":[3],"t":98,"v":43},{"r":5,"c":[3],"t":100,"v":48},
{"r":5,"c":[4],"t":0,"v":61},{"r":5,"c":[4],"t":4,"v":55},{"r":5,"c":[4],"t":11,"v":54},{"r":5,"c":[4],"t":18,"v":53},{"r":5,"c":[4],"t":24,"v":53},{"r":5,"c":[4],"t":31,"v":51},{"r":5,"c":[4],"t":37,"v":49},{"r":5,"c":[4],"t":44,"v":50},{"r":5,"c":[4],"t":49,"v":46},{"r":5,"c":[4],"t":54,"v":42},{"r":5,"c":[4],"t":60,"v":34},{"r":5,"c":[4],"t":65,"v":24},{"r":5,"c":[4],"t":68,"v":22},{"r":5,"c":[4],"t":71,"v":30},{"r":5,"c":[4],"t":76,"v":42},{"r":5,"c":[4],"t":80,"v":47},{"r":5,"c":[4],"t":86,"v":47},{"r":5,"c":[4],"t":93,"v":47},{"r":5,"c":[4],"t":100,"v":49},
{"r":5,"c":[5],"t":0,"v":67},{"r":5,"c":[5],"t":3,"v":66},{"r":5,"c":[5],"t":8,"v":56},{"r":5,"c":[5],"t":12,"v":49},{"r":5,"c":[5],"t":15,"v":54},{"r":5,"c":[5],"t":18,"v":62},{"r":5,"c":[5],"t":22,"v":71},{"r":5,"c":[5],"t":25,"v":68},{"r":5,"c":[5],"t":29,"v":62},{"r":5,"c":[5],"t":33,"v":54},{"r":5,"c":[5],"t":37,"v":37},{"r":5,"c":[5],"t":42,"v":35},{"r":5,"c":[5],"t":46,"v":34},{"r":5,"c":[5],"t":50,"v":35},{"r":5,"c":[5],"t":54,"v":40},{"r":5,"c":[5],"t":59,"v":40},{"r":5,"c":[5],"t":63,"v":48},{"r":5,"c":[5],"t":67,"v":57},{"r":5,"c":[5],"t":70,"v":54},{"r":5,"c":[5],"t":73,"v":43},{"r":5,"c":[5],"t":78,"v":33},{"r":5,"c":[5],"t":82,"v":38},{"r":5,"c":[5],"t":87,"v":38},{"r":5,"c":[5],"t":91,"v":44},{"r":5,"c":[5],"t":95,"v":52},{"r":5,"c":[5],"t":100,"v":59},
{"r":5,"c":[6],"t":0,"v":47},{"r":5,"c":[6],"t":4,"v":55},{"r":5,"c":[6],"t":7,"v":55},{"r":5,"c":[6],"t":10,"v":65},{"r":5,"c":[6],"t":14,"v":70},{"r":5,"c":[6],"t":18,"v":68},{"r":5,"c":[6],"t":21,"v":58},{"r":5,"c":[6],"t":25,"v":65},{"r":5,"c":[6],"t":29,"v":75},{"r":5,"c":[6],"t":32,"v":72},{"r":5,"c":[6],"t":36,"v":83},{"r":5,"c":[6],"t":39,"v":80},{"r":5,"c":[6],"t":43,"v":76},{"r":5,"c":[6],"t":47,"v":76},{"r":5,"c":[6],"t":52,"v":73},{"r":5,"c":[6],"t":56,"v":57},{"r":5,"c":[6],"t":61,"v":52},{"r":5,"c":[6],"t":64,"v":48},{"r":5,"c":[6],"t":67,"v":35},{"r":5,"c":[6],"t":72,"v":42},{"r":5,"c":[6],"t":76,"v":45},{"r":5,"c":[6],"t":80,"v":44},{"r":5,"c":[6],"t":85,"v":40},{"r":5,"c":[6],"t":89,"v":35},{"r":5,"c":[6],"t":93,"v":26},{"r":5,"c":[6],"t":97,"v":19},{"r":5,"c":[6],"t":100,"v":29},
{"r":5,"c":[7],"t":0,"v":52},{"r":5,"c":[7],"t":2,"v":77},{"r":5,"c":[7],"t":5,"v":73},{"r":5,"c":[7],"t":8,"v":73},{"r":5,"c":[7],"t":12,"v":59},{"r":5,"c":[7],"t":15,"v":52},{"r":5,"c":[7],"t":19,"v":64},{"r":5,"c":[7],"t":22,"v":52},{"r":5,"c":[7],"t":25,"v":59},{"r":5,"c":[7],"t":28,"v":44},{"r":5,"c":[7],"t":32,"v":50},{"r":5,"c":[7],"t":35,"v":57},{"r":5,"c":[7],"t":37,"v":75},{"r":5,"c":[7],"t":39,"v":42},{"r":5,"c":[7],"t":42,"v":37},{"r":5,"c":[7],"t":45,"v":60},{"r":5,"c":[7],"t":47,"v":55},{"r":5,"c":[7],"t":49,"v":62},{"r":5,"c":[7],"t":52,"v":39},{"r":5,"c":[7],"t":55,"v":26},{"r":5,"c":[7],"t":58,"v":44},{"r":5,"c":[7],"t":61,"v":47},{"r":5,"c":[7],"t":64,"v":37},{"r":5,"c":[7],"t":67,"v":29},{"r":5,"c":[7],"t":70,"v":36},{"r":5,"c":[7],"t":74,"v":23},{"r":5,"c":[7],"t":77,"v":18},{"r":5,"c":[7],"t":80,"v":33},{"r":5,"c":[7],"t":83,"v":46},{"r":5,"c":[7],"t":86,"v":29},{"r":5,"c":[7],"t":89,"v":36},{"r":5,"c":[7],"t":92,"v":29},{"r":5,"c":[7],"t":96,"v":33},{"r":5,"c":[7],"t":98,"v":16},{"r":5,"c":[7],"t":100,"v":20},
{"r":5,"c":[8],"t":0,"v":46},{"r":5,"c":[8],"t":2,"v":35},{"r":5,"c":[8],"t":4,"v":38},{"r":5,"c":[8],"t":7,"v":28},{"r":5,"c":[8],"t":9,"v":19},{"r":5,"c":[8],"t":11,"v":13},{"r":5,"c":[8],"t":13,"v":32},{"r":5,"c":[8],"t":16,"v":44},{"r":5,"c":[8],"t":19,"v":63},{"r":5,"c":[8],"t":21,"v":66},{"r":5,"c":[8],"t":24,"v":73},{"r":5,"c":[8],"t":28,"v":76},{"r":5,"c":[8],"t":30,"v":69},{"r":5,"c":[8],"t":33,"v":60},{"r":5,"c":[8],"t":36,"v":41},{"r":5,"c":[8],"t":40,"v":27},{"r":5,"c":[8],"t":44,"v":38},{"r":5,"c":[8],"t":47,"v":47},{"r":5,"c":[8],"t":51,"v":47},{"r":5,"c":[8],"t":56,"v":43},{"r":5,"c":[8],"t":59,"v":57},{"r":5,"c":[8],"t":62,"v":49},{"r":5,"c":[8],"t":65,"v":57},{"r":5,"c":[8],"t":69,"v":95},{"r":5,"c":[8],"t":71,"v":87},{"r":5,"c":[8],"t":73,"v":79},{"r":5,"c":[8],"t":76,"v":85},{"r":5,"c":[8],"t":79,"v":79},{"r":5,"c":[8],"t":81,"v":84},{"r":5,"c":[8],"t":84,"v":63},{"r":5,"c":[8],"t":88,"v":54},{"r":5,"c":[8],"t":91,"v":38},{"r":5,"c":[8],"t":94,"v":43},{"r":5,"c":[8],"t":98,"v":43},{"r":5,"c":[8],"t":100,"v":80}
]
},
"vconcat": [
{"hconcat": [
  {"width": 207, "height": 103, "data": {"values": []}, "mark": "point", "encoding": {}},
  {"data": {"name": "collab"},
   "facet": {"column": {"field": "c", "type": "ordinal", "header": {"labels": false, "title": null}}},
   "spacing": {"column": 30},
   "bounds": "flush",
   "spec": {"width": 210, "height": 103,
     "layer": [
       {"transform": [{"filter": "datum.p == 'n'"}],
        "mark": {"type": "text", "font": "Liberation Serif", "fontSize": 32, "fontWeight": "bold", "baseline": "middle", "align": "center", "color": "black"},
        "encoding": {"y": {"field": "ln", "type": "quantitative", "scale": {"domain": [0, 2], "range": [21, 97]}, "axis": null}, "text": {"field": "txt"}}},
       {"transform": [{"filter": "datum.p == 's'"}],
        "mark": {"type": "text", "font": "Liberation Serif", "fontSize": 32, "fontWeight": "normal", "baseline": "middle", "align": "center", "color": "black"},
        "encoding": {"y": {"field": "ln", "type": "quantitative", "scale": {"domain": [0, 2], "range": [21, 97]}, "axis": null}, "text": {"field": "txt"}}}
     ]}}
 ], "spacing": 19},
{"hconcat": [
  {"data": {"name": "rowlab"},
   "facet": {"row": {"field": "r", "type": "ordinal", "header": {"labels": false, "title": null}}},
   "spacing": {"row": 20},
   "bounds": "flush",
   "spec": {"width": 207, "height": 106,
     "layer": [
       {"transform": [{"filter": "datum.p == 'n'"}],
        "mark": {"type": "text", "font": "Liberation Serif", "fontSize": 31, "fontWeight": "bold", "baseline": "middle", "align": "left", "color": "black"},
        "encoding": {"x": {"datum": 0, "type": "quantitative", "scale": {"domain": [0, 1], "range": [12, 207]}, "axis": null},
                     "y": {"field": "ln", "type": "quantitative", "scale": {"domain": [0, 3], "range": [13, 106]}, "axis": null}, "text": {"field": "txt"}}},
       {"transform": [{"filter": "datum.p == 'd'"}],
        "mark": {"type": "text", "font": "Liberation Serif", "fontSize": 25, "fontStyle": "italic", "baseline": "middle", "align": "left", "color": "black"},
        "encoding": {"x": {"datum": 0, "type": "quantitative", "scale": {"domain": [0, 1], "range": [12, 207]}, "axis": null},
                     "y": {"field": "ln", "type": "quantitative", "scale": {"domain": [0, 3], "range": [13, 106]}, "axis": null}, "text": {"field": "txt"}}}
     ]}},
  {"data": {"name": "grid"},
   "transform": [{"flatten": ["c"]}],
   "facet": {"row": {"field": "r", "type": "ordinal", "header": {"labels": false, "title": null}},
             "column": {"field": "c", "type": "ordinal", "header": {"labels": false, "title": null}}},
   "spacing": {"row": 20, "column": 30},
   "bounds": "flush",
   "resolve": {"axis": {"x": "independent", "y": "independent"}},
   "spec": {"width": 210, "height": 106,
     "view": {"stroke": "black", "strokeWidth": 1.6},
     "encoding": {
       "x": {"field": "t", "type": "quantitative", "scale": {"domain": [0, 100], "nice": false},
             "axis": {"title": null, "labels": false, "domain": false, "grid": false, "ticks": true, "tickSize": 3, "tickCount": 12, "tickColor": "black"}}
     },
     "layer": [
       {"transform": [{"filter": "isValid(datum.k)"}],
        "mark": {"type": "line", "color": "black", "strokeWidth": 1.1},
        "encoding": {"y": {"field": "k", "type": "quantitative", "scale": {"domain": [0, 100], "nice": false, "zero": false},
             "axis": {"title": null, "labels": false, "domain": false, "grid": false, "ticks": true, "tickSize": 3, "tickCount": 9, "tickColor": "black"}}}},
       {"transform": [{"filter": "isValid(datum.v)"}],
        "mark": {"type": "line", "color": "#ff0000", "strokeWidth": 1.2},
        "encoding": {"y": {"field": "v", "type": "quantitative"}}}
     ]}}
 ], "spacing": 19}
]
}
